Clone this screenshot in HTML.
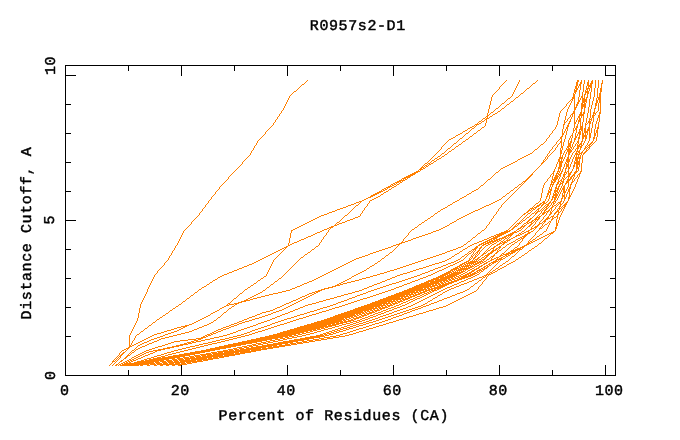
<!DOCTYPE html>
<html><head><meta charset="utf-8"><title>R0957s2-D1</title>
<style>html,body{margin:0;padding:0;background:#fff}svg{display:block}</style></head>
<body><svg width="680" height="440" viewBox="0 0 680 440" shape-rendering="crispEdges">
<rect width="680" height="440" fill="#fff"/>
<rect x="65.5" y="65.5" width="550" height="310" fill="none" stroke="#000" stroke-width="1"/>
<path d="M128.5 375v-5M128.5 66v5M181.5 375v-10M181.5 66v10M234.5 375v-5M234.5 66v5M287.5 375v-10M287.5 66v10M340.5 375v-5M340.5 66v5M393.5 375v-10M393.5 66v10M446.5 375v-5M446.5 66v5M499.5 375v-10M499.5 66v10M552.5 375v-5M552.5 66v5M605.5 375v-10M605.5 66v10M66 336.5h5M615 336.5h-5M66 307.5h5M615 307.5h-5M66 278.5h5M615 278.5h-5M66 249.5h5M615 249.5h-5M66 220.5h10M615 220.5h-10M66 191.5h5M615 191.5h-5M66 162.5h5M615 162.5h-5M66 133.5h5M615 133.5h-5M66 104.5h5M615 104.5h-5M66 75.5h10M615 75.5h-10" stroke="#000" stroke-width="1" fill="none"/>
<path fill="#ff7f00" d="M577 80h2v1h-2zM577 81h2v1h-2zM591 81h2v1h-2zM576 82h2v1h-2zM580 82h2v1h-2zM587 82h2v1h-2zM591 82h2v1h-2zM533 83h2v1h-2zM576 83h2v1h-2zM580 83h2v1h-2zM587 83h2v1h-2zM590 83h3v1h-3zM601 83h2v1h-2zM302 84h2v1h-2zM576 84h2v1h-2zM579 84h2v1h-2zM587 84h2v1h-2zM590 84h2v1h-2zM576 85h2v1h-2zM579 85h2v1h-2zM587 85h5v1h-5zM575 86h2v1h-2zM588 86h4v1h-4zM575 87h2v1h-2zM590 87h2v1h-2zM527 88h2v1h-2zM575 88h3v1h-3zM586 88h4v1h-4zM600 88h2v1h-2zM576 89h2v1h-2zM586 89h2v1h-2zM600 89h2v1h-2zM574 90h3v1h-3zM600 90h2v1h-2zM294 91h2v1h-2zM574 91h3v1h-3zM585 91h4v1h-4zM600 91h2v1h-2zM574 92h2v1h-2zM585 92h4v1h-4zM521 93h2v1h-2zM587 93h2v1h-2zM599 93h2v1h-2zM573 94h2v1h-2zM584 94h2v1h-2zM599 94h2v1h-2zM573 95h2v1h-2zM599 95h2v1h-2zM573 96h2v1h-2zM581 96h2v1h-2zM599 96h2v1h-2zM516 97h2v1h-2zM572 97h3v1h-3zM581 97h2v1h-2zM586 97h2v1h-2zM597 97h4v1h-4zM508 98h2v1h-2zM572 98h3v1h-3zM582 98h3v1h-3zM598 98h3v1h-3zM571 99h2v1h-2zM582 99h5v1h-5zM598 99h3v1h-3zM578 100h2v1h-2zM582 100h5v1h-5zM596 100h2v1h-2zM599 100h2v1h-2zM511 101h2v1h-2zM578 101h2v1h-2zM582 101h5v1h-5zM596 101h2v1h-2zM599 101h2v1h-2zM577 102h2v1h-2zM582 102h3v1h-3zM596 102h2v1h-2zM599 102h2v1h-2zM502 103h2v1h-2zM577 103h2v1h-2zM581 103h2v1h-2zM584 103h2v1h-2zM595 103h2v1h-2zM507 104h2v1h-2zM576 104h2v1h-2zM581 104h5v1h-5zM595 104h2v1h-2zM576 105h2v1h-2zM581 105h5v1h-5zM595 105h2v1h-2zM581 106h5v1h-5zM574 107h3v1h-3zM581 107h2v1h-2zM584 107h2v1h-2zM496 108h2v1h-2zM502 108h2v1h-2zM574 108h2v1h-2zM581 108h2v1h-2zM594 108h2v1h-2zM574 109h2v1h-2zM498 111h2v1h-2zM573 111h2v1h-2zM491 112h2v1h-2zM573 112h2v1h-2zM580 112h2v1h-2zM583 112h2v1h-2zM593 112h2v1h-2zM599 112h2v1h-2zM495 113h2v1h-2zM572 113h3v1h-3zM580 113h2v1h-2zM583 113h2v1h-2zM593 113h3v1h-3zM599 113h2v1h-2zM493 114h2v1h-2zM571 114h2v1h-2zM579 114h5v1h-5zM487 115h2v1h-2zM579 115h5v1h-5zM592 115h3v1h-3zM598 115h2v1h-2zM486 116h2v1h-2zM490 116h2v1h-2zM578 116h2v1h-2zM592 116h2v1h-2zM598 116h2v1h-2zM578 117h2v1h-2zM592 117h2v1h-2zM598 117h2v1h-2zM483 118h2v1h-2zM486 118h3v1h-3zM579 118h2v1h-2zM485 119h2v1h-2zM579 119h2v1h-2zM589 119h3v1h-3zM578 120h3v1h-3zM479 121h2v1h-2zM482 121h2v1h-2zM569 121h2v1h-2zM578 121h3v1h-3zM588 121h3v1h-3zM564 122h2v1h-2zM574 122h2v1h-2zM588 122h3v1h-3zM479 123h2v1h-2zM568 123h2v1h-2zM574 123h2v1h-2zM589 123h2v1h-2zM475 124h4v1h-4zM563 124h2v1h-2zM585 124h2v1h-2zM567 125h2v1h-2zM472 126h2v1h-2zM567 126h2v1h-2zM576 126h2v1h-2zM580 126h3v1h-3zM470 127h2v1h-2zM482 127h2v1h-2zM566 127h2v1h-2zM576 127h2v1h-2zM580 127h3v1h-3zM588 127h2v1h-2zM597 127h2v1h-2zM468 128h2v1h-2zM472 128h2v1h-2zM566 128h2v1h-2zM575 128h2v1h-2zM580 128h3v1h-3zM584 128h2v1h-2zM588 128h2v1h-2zM597 128h2v1h-2zM575 129h2v1h-2zM579 129h4v1h-4zM584 129h2v1h-2zM587 129h3v1h-3zM465 130h2v1h-2zM478 130h2v1h-2zM573 130h2v1h-2zM581 130h2v1h-2zM584 130h2v1h-2zM587 130h3v1h-3zM596 130h2v1h-2zM463 131h2v1h-2zM579 131h2v1h-2zM584 131h4v1h-4zM596 131h2v1h-2zM578 132h3v1h-3zM584 132h4v1h-4zM596 132h2v1h-2zM460 133h2v1h-2zM466 133h2v1h-2zM474 133h2v1h-2zM562 133h2v1h-2zM578 133h3v1h-3zM582 133h2v1h-2zM589 133h2v1h-2zM594 133h2v1h-2zM458 134h2v1h-2zM562 134h2v1h-2zM579 134h2v1h-2zM582 134h2v1h-2zM589 134h2v1h-2zM594 134h2v1h-2zM456 135h2v1h-2zM571 135h2v1h-2zM582 135h5v1h-5zM589 135h2v1h-2zM594 135h2v1h-2zM470 136h2v1h-2zM561 136h2v1h-2zM575 136h2v1h-2zM582 136h5v1h-5zM589 136h2v1h-2zM453 137h2v1h-2zM560 137h2v1h-2zM575 137h2v1h-2zM578 137h2v1h-2zM582 137h2v1h-2zM585 137h2v1h-2zM589 137h2v1h-2zM593 137h2v1h-2zM451 138h2v1h-2zM460 138h2v1h-2zM560 138h2v1h-2zM574 138h2v1h-2zM578 138h2v1h-2zM582 138h2v1h-2zM585 138h2v1h-2zM593 138h2v1h-2zM449 139h2v1h-2zM466 139h2v1h-2zM574 139h2v1h-2zM463 141h2v1h-2zM560 141h2v1h-2zM570 141h2v1h-2zM577 141h2v1h-2zM581 141h2v1h-2zM560 142h2v1h-2zM570 142h2v1h-2zM577 142h2v1h-2zM591 142h2v1h-2zM454 143h2v1h-2zM568 143h3v1h-3zM580 143h2v1h-2zM590 143h2v1h-2zM459 144h2v1h-2zM541 144h2v1h-2zM568 144h3v1h-3zM579 144h3v1h-3zM589 144h2v1h-2zM568 145h3v1h-3zM577 145h3v1h-3zM581 145h2v1h-2zM588 145h2v1h-2zM456 146h2v1h-2zM561 146h2v1h-2zM567 146h4v1h-4zM577 146h5v1h-5zM589 146h2v1h-2zM561 147h2v1h-2zM567 147h2v1h-2zM570 147h2v1h-2zM577 147h2v1h-2zM580 147h2v1h-2zM585 147h2v1h-2zM588 147h2v1h-2zM448 148h2v1h-2zM568 148h2v1h-2zM576 148h3v1h-3zM584 148h2v1h-2zM452 149h2v1h-2zM535 149h2v1h-2zM566 149h5v1h-5zM560 150h2v1h-2zM567 150h5v1h-5zM586 150h2v1h-2zM449 151h2v1h-2zM560 151h2v1h-2zM567 151h5v1h-5zM576 151h4v1h-4zM585 151h2v1h-2zM560 152h2v1h-2zM568 152h3v1h-3zM578 152h2v1h-2zM581 152h2v1h-2zM584 152h2v1h-2zM442 153h2v1h-2zM530 153h2v1h-2zM560 153h2v1h-2zM568 153h2v1h-2zM575 153h3v1h-3zM579 153h3v1h-3zM583 153h2v1h-2zM445 154h2v1h-2zM528 154h2v1h-2zM568 154h2v1h-2zM575 154h5v1h-5zM526 155h2v1h-2zM438 156h2v1h-2zM442 156h2v1h-2zM524 156h2v1h-2zM522 157h2v1h-2zM559 157h4v1h-4zM567 157h2v1h-2zM575 157h6v1h-6zM435 158h2v1h-2zM439 158h2v1h-2zM520 158h2v1h-2zM559 158h4v1h-4zM567 158h2v1h-2zM575 158h6v1h-6zM437 159h2v1h-2zM518 159h2v1h-2zM558 159h2v1h-2zM566 159h4v1h-4zM575 159h3v1h-3zM432 160h2v1h-2zM558 160h2v1h-2zM566 160h4v1h-4zM575 160h3v1h-3zM434 161h2v1h-2zM515 161h2v1h-2zM543 161h2v1h-2zM558 161h5v1h-5zM566 161h4v1h-4zM576 161h4v1h-4zM513 162h2v1h-2zM542 162h2v1h-2zM559 162h4v1h-4zM567 162h2v1h-2zM574 162h6v1h-6zM425 163h2v1h-2zM428 163h2v1h-2zM431 163h2v1h-2zM511 163h2v1h-2zM541 163h2v1h-2zM559 163h3v1h-3zM565 163h2v1h-2zM574 163h6v1h-6zM429 164h2v1h-2zM509 164h2v1h-2zM559 164h3v1h-3zM566 164h3v1h-3zM576 164h4v1h-4zM425 165h2v1h-2zM507 165h2v1h-2zM559 165h3v1h-3zM566 165h3v1h-3zM573 165h2v1h-2zM576 165h2v1h-2zM426 166h2v1h-2zM505 166h2v1h-2zM559 166h3v1h-3zM566 166h3v1h-3zM573 166h2v1h-2zM576 166h2v1h-2zM421 167h3v1h-3zM503 167h2v1h-2zM558 167h3v1h-3zM568 167h2v1h-2zM576 167h3v1h-3zM420 168h2v1h-2zM423 168h2v1h-2zM501 168h2v1h-2zM558 168h3v1h-3zM565 168h2v1h-2zM568 168h2v1h-2zM576 168h3v1h-3zM419 169h4v1h-4zM416 171h4v1h-4zM553 171h2v1h-2zM557 171h3v1h-3zM561 171h2v1h-2zM567 171h2v1h-2zM575 171h3v1h-3zM580 171h2v1h-2zM414 172h4v1h-4zM496 172h2v1h-2zM564 172h3v1h-3zM570 172h2v1h-2zM574 172h3v1h-3zM412 173h4v1h-4zM552 173h2v1h-2zM556 173h3v1h-3zM560 173h2v1h-2zM568 173h3v1h-3zM574 173h2v1h-2zM579 173h2v1h-2zM410 174h5v1h-5zM531 174h2v1h-2zM558 174h3v1h-3zM563 174h3v1h-3zM568 174h3v1h-3zM573 174h2v1h-2zM578 174h2v1h-2zM408 175h5v1h-5zM530 175h2v1h-2zM555 175h3v1h-3zM559 175h2v1h-2zM563 175h2v1h-2zM568 175h2v1h-2zM572 175h3v1h-3zM406 176h5v1h-5zM529 176h2v1h-2zM555 176h4v1h-4zM563 176h2v1h-2zM567 176h3v1h-3zM571 176h2v1h-2zM404 177h6v1h-6zM528 177h2v1h-2zM554 177h4v1h-4zM570 177h2v1h-2zM402 178h4v1h-4zM527 178h2v1h-2zM554 178h4v1h-4zM562 178h2v1h-2zM570 178h2v1h-2zM405 179h2v1h-2zM488 179h2v1h-2zM526 179h2v1h-2zM552 179h5v1h-5zM563 179h2v1h-2zM567 179h4v1h-4zM399 180h6v1h-6zM525 180h2v1h-2zM553 180h3v1h-3zM560 180h2v1h-2zM567 180h3v1h-3zM397 181h4v1h-4zM523 181h3v1h-3zM551 181h2v1h-2zM554 181h2v1h-2zM558 181h2v1h-2zM561 181h3v1h-3zM566 181h3v1h-3zM572 181h2v1h-2zM395 182h4v1h-4zM400 182h2v1h-2zM551 182h4v1h-4zM557 182h2v1h-2zM562 182h2v1h-2zM566 182h3v1h-3zM571 182h2v1h-2zM393 183h2v1h-2zM557 183h2v1h-2zM560 183h3v1h-3zM565 183h2v1h-2zM391 184h2v1h-2zM394 184h2v1h-2zM397 184h2v1h-2zM519 184h2v1h-2zM550 184h4v1h-4zM556 184h2v1h-2zM559 184h2v1h-2zM570 184h2v1h-2zM392 185h2v1h-2zM481 185h2v1h-2zM388 186h4v1h-4zM394 186h2v1h-2zM558 186h2v1h-2zM563 186h2v1h-2zM386 187h4v1h-4zM392 187h2v1h-2zM515 187h2v1h-2zM555 187h2v1h-2zM563 187h2v1h-2zM569 187h2v1h-2zM384 188h2v1h-2zM555 188h4v1h-4zM562 188h3v1h-3zM569 188h2v1h-2zM382 189h2v1h-2zM385 189h2v1h-2zM389 189h2v1h-2zM476 189h2v1h-2zM549 189h3v1h-3zM557 189h2v1h-2zM562 189h3v1h-3zM568 189h2v1h-2zM383 190h2v1h-2zM474 190h2v1h-2zM511 190h2v1h-2zM550 190h2v1h-2zM554 190h4v1h-4zM563 190h2v1h-2zM568 190h2v1h-2zM379 191h4v1h-4zM386 191h2v1h-2zM472 191h2v1h-2zM548 191h3v1h-3zM554 191h4v1h-4zM563 191h3v1h-3zM568 191h2v1h-2zM377 192h4v1h-4zM384 192h2v1h-2zM548 192h3v1h-3zM554 192h2v1h-2zM557 192h2v1h-2zM563 192h3v1h-3zM375 193h4v1h-4zM469 193h2v1h-2zM507 193h2v1h-2zM547 193h2v1h-2zM555 193h2v1h-2zM373 194h4v1h-4zM381 194h2v1h-2zM467 194h2v1h-2zM547 194h2v1h-2zM553 194h5v1h-5zM371 195h4v1h-4zM553 195h5v1h-5zM562 195h3v1h-3zM569 195h2v1h-2zM370 196h3v1h-3zM378 196h2v1h-2zM464 196h2v1h-2zM503 196h2v1h-2zM546 196h2v1h-2zM552 196h2v1h-2zM555 196h2v1h-2zM562 196h3v1h-3zM569 196h2v1h-2zM368 197h3v1h-3zM376 197h2v1h-2zM462 197h2v1h-2zM552 197h5v1h-5zM564 197h2v1h-2zM568 197h2v1h-2zM366 198h2v1h-2zM374 198h2v1h-2zM460 198h2v1h-2zM554 198h2v1h-2zM561 198h2v1h-2zM564 198h2v1h-2zM568 198h2v1h-2zM364 199h2v1h-2zM372 199h2v1h-2zM499 199h2v1h-2zM551 199h2v1h-2zM554 199h2v1h-2zM362 200h2v1h-2zM370 200h2v1h-2zM457 200h2v1h-2zM497 200h2v1h-2zM359 201h3v1h-3zM455 201h2v1h-2zM495 201h2v1h-2zM543 201h2v1h-2zM553 201h3v1h-3zM560 201h2v1h-2zM356 202h3v1h-3zM453 202h2v1h-2zM493 202h2v1h-2zM542 202h3v1h-3zM549 202h2v1h-2zM552 202h2v1h-2zM558 202h3v1h-3zM566 202h2v1h-2zM354 203h2v1h-2zM491 203h2v1h-2zM536 203h2v1h-2zM540 203h2v1h-2zM543 203h3v1h-3zM548 203h2v1h-2zM553 203h2v1h-2zM559 203h2v1h-2zM565 203h2v1h-2zM351 204h3v1h-3zM450 204h2v1h-2zM489 204h2v1h-2zM539 204h2v1h-2zM542 204h2v1h-2zM546 204h3v1h-3zM560 204h2v1h-2zM564 204h3v1h-3zM348 205h3v1h-3zM356 205h2v1h-2zM448 205h2v1h-2zM486 205h3v1h-3zM537 205h3v1h-3zM541 205h2v1h-2zM547 205h2v1h-2zM554 205h2v1h-2zM563 205h3v1h-3zM346 206h2v1h-2zM484 206h2v1h-2zM536 206h3v1h-3zM546 206h2v1h-2zM552 206h2v1h-2zM559 206h2v1h-2zM564 206h2v1h-2zM343 207h3v1h-3zM445 207h2v1h-2zM482 207h2v1h-2zM534 207h3v1h-3zM545 207h2v1h-2zM551 207h2v1h-2zM563 207h2v1h-2zM340 208h3v1h-3zM443 208h2v1h-2zM480 208h2v1h-2zM530 208h4v1h-4zM538 208h2v1h-2zM546 208h2v1h-2zM550 208h2v1h-2zM558 208h3v1h-3zM337 209h3v1h-3zM441 209h2v1h-2zM478 209h2v1h-2zM533 209h2v1h-2zM537 209h2v1h-2zM545 209h2v1h-2zM335 210h2v1h-2zM475 210h3v1h-3zM528 210h3v1h-3zM544 210h2v1h-2zM548 210h2v1h-2zM557 210h2v1h-2zM332 211h3v1h-3zM438 211h2v1h-2zM473 211h2v1h-2zM527 211h2v1h-2zM537 211h3v1h-3zM546 211h3v1h-3zM556 211h3v1h-3zM329 212h3v1h-3zM471 212h2v1h-2zM526 212h2v1h-2zM536 212h2v1h-2zM543 212h3v1h-3zM550 212h2v1h-2zM555 212h2v1h-2zM558 212h2v1h-2zM327 213h2v1h-2zM435 213h2v1h-2zM469 213h2v1h-2zM524 213h2v1h-2zM528 213h2v1h-2zM532 213h2v1h-2zM535 213h2v1h-2zM542 213h3v1h-3zM550 213h2v1h-2zM554 213h2v1h-2zM324 214h3v1h-3zM467 214h2v1h-2zM523 214h2v1h-2zM542 214h2v1h-2zM549 214h2v1h-2zM557 214h2v1h-2zM321 215h3v1h-3zM345 215h2v1h-2zM465 215h2v1h-2zM319 216h2v1h-2zM358 216h2v1h-2zM431 216h2v1h-2zM463 216h2v1h-2zM539 216h2v1h-2zM551 216h3v1h-3zM556 216h2v1h-2zM317 217h2v1h-2zM355 217h3v1h-3zM461 217h2v1h-2zM527 217h2v1h-2zM536 217h4v1h-4zM547 217h2v1h-2zM554 217h2v1h-2zM315 218h2v1h-2zM353 218h2v1h-2zM428 218h2v1h-2zM459 218h2v1h-2zM530 218h2v1h-2zM535 218h2v1h-2zM538 218h2v1h-2zM546 218h4v1h-4zM552 218h2v1h-2zM313 219h2v1h-2zM350 219h3v1h-3zM457 219h2v1h-2zM529 219h2v1h-2zM534 219h5v1h-5zM545 219h3v1h-3zM551 219h2v1h-2zM311 220h2v1h-2zM347 220h3v1h-3zM425 220h2v1h-2zM523 220h2v1h-2zM528 220h2v1h-2zM532 220h2v1h-2zM544 220h2v1h-2zM309 221h2v1h-2zM345 221h2v1h-2zM454 221h2v1h-2zM527 221h2v1h-2zM531 221h2v1h-2zM543 221h3v1h-3zM549 221h2v1h-2zM307 222h2v1h-2zM337 222h2v1h-2zM342 222h3v1h-3zM422 222h2v1h-2zM452 222h2v1h-2zM526 222h2v1h-2zM529 222h3v1h-3zM305 223h2v1h-2zM339 223h3v1h-3zM450 223h2v1h-2zM517 223h4v1h-4zM524 223h2v1h-2zM527 223h2v1h-2zM531 223h2v1h-2zM539 223h3v1h-3zM556 223h2v1h-2zM303 224h2v1h-2zM337 224h2v1h-2zM419 224h2v1h-2zM530 224h2v1h-2zM538 224h2v1h-2zM545 224h2v1h-2zM556 224h2v1h-2zM301 225h2v1h-2zM334 225h3v1h-3zM447 225h2v1h-2zM524 225h2v1h-2zM529 225h2v1h-2zM537 225h2v1h-2zM556 225h2v1h-2zM299 226h2v1h-2zM331 226h3v1h-3zM445 226h2v1h-2zM514 226h3v1h-3zM521 226h4v1h-4zM528 226h2v1h-2zM535 226h3v1h-3zM297 227h2v1h-2zM329 227h4v1h-4zM415 227h2v1h-2zM443 227h2v1h-2zM513 227h2v1h-2zM520 227h2v1h-2zM534 227h3v1h-3zM555 227h2v1h-2zM295 228h2v1h-2zM327 228h2v1h-2zM441 228h2v1h-2zM512 228h2v1h-2zM518 228h3v1h-3zM531 228h3v1h-3zM539 228h3v1h-3zM555 228h2v1h-2zM293 229h2v1h-2zM324 229h3v1h-3zM412 229h2v1h-2zM439 229h2v1h-2zM511 229h2v1h-2zM517 229h2v1h-2zM530 229h2v1h-2zM291 230h2v1h-2zM322 230h2v1h-2zM436 230h3v1h-3zM482 230h2v1h-2zM506 230h2v1h-2zM509 230h2v1h-2zM519 230h2v1h-2zM528 230h2v1h-2zM320 231h2v1h-2zM433 231h3v1h-3zM504 231h6v1h-6zM514 231h2v1h-2zM517 231h2v1h-2zM522 231h2v1h-2zM526 231h3v1h-3zM531 231h2v1h-2zM544 231h2v1h-2zM553 231h2v1h-2zM317 232h3v1h-3zM431 232h2v1h-2zM501 232h7v1h-7zM512 232h5v1h-5zM524 232h2v1h-2zM528 232h3v1h-3zM551 232h3v1h-3zM315 233h2v1h-2zM428 233h3v1h-3zM478 233h2v1h-2zM499 233h7v1h-7zM510 233h4v1h-4zM519 233h2v1h-2zM522 233h2v1h-2zM527 233h3v1h-3zM549 233h4v1h-4zM313 234h2v1h-2zM425 234h3v1h-3zM496 234h8v1h-8zM508 234h5v1h-5zM520 234h2v1h-2zM525 234h3v1h-3zM540 234h2v1h-2zM547 234h2v1h-2zM311 235h2v1h-2zM422 235h3v1h-3zM494 235h2v1h-2zM497 235h5v1h-5zM506 235h6v1h-6zM516 235h4v1h-4zM524 235h3v1h-3zM545 235h2v1h-2zM308 236h3v1h-3zM419 236h3v1h-3zM491 236h3v1h-3zM495 236h5v1h-5zM504 236h3v1h-3zM515 236h2v1h-2zM522 236h4v1h-4zM537 236h2v1h-2zM543 236h2v1h-2zM306 237h2v1h-2zM416 237h3v1h-3zM473 237h2v1h-2zM489 237h2v1h-2zM493 237h5v1h-5zM502 237h4v1h-4zM513 237h2v1h-2zM520 237h2v1h-2zM523 237h2v1h-2zM541 237h2v1h-2zM304 238h2v1h-2zM413 238h3v1h-3zM487 238h2v1h-2zM491 238h6v1h-6zM499 238h5v1h-5zM505 238h2v1h-2zM511 238h2v1h-2zM518 238h2v1h-2zM521 238h3v1h-3zM539 238h2v1h-2zM545 238h2v1h-2zM301 239h3v1h-3zM411 239h2v1h-2zM484 239h3v1h-3zM489 239h3v1h-3zM493 239h2v1h-2zM496 239h4v1h-4zM509 239h2v1h-2zM516 239h2v1h-2zM533 239h2v1h-2zM537 239h2v1h-2zM299 240h2v1h-2zM408 240h3v1h-3zM482 240h2v1h-2zM487 240h3v1h-3zM491 240h2v1h-2zM494 240h4v1h-4zM499 240h2v1h-2zM506 240h4v1h-4zM518 240h2v1h-2zM535 240h2v1h-2zM297 241h2v1h-2zM405 241h3v1h-3zM468 241h2v1h-2zM479 241h3v1h-3zM485 241h3v1h-3zM489 241h7v1h-7zM497 241h2v1h-2zM501 241h2v1h-2zM504 241h2v1h-2zM513 241h2v1h-2zM530 241h2v1h-2zM533 241h2v1h-2zM294 242h3v1h-3zM401 242h4v1h-4zM477 242h2v1h-2zM483 242h3v1h-3zM487 242h4v1h-4zM492 242h2v1h-2zM502 242h5v1h-5zM511 242h2v1h-2zM515 242h2v1h-2zM528 242h2v1h-2zM531 242h2v1h-2zM292 243h2v1h-2zM399 243h3v1h-3zM474 243h3v1h-3zM481 243h3v1h-3zM485 243h4v1h-4zM490 243h2v1h-2zM494 243h2v1h-2zM499 243h3v1h-3zM503 243h2v1h-2zM509 243h2v1h-2zM527 243h4v1h-4zM539 243h2v1h-2zM290 244h2v1h-2zM396 244h4v1h-4zM464 244h2v1h-2zM472 244h2v1h-2zM479 244h3v1h-3zM483 244h3v1h-3zM488 244h2v1h-2zM492 244h2v1h-2zM497 244h3v1h-3zM502 244h2v1h-2zM507 244h2v1h-2zM512 244h2v1h-2zM526 244h3v1h-3zM288 245h2v1h-2zM393 245h3v1h-3zM470 245h2v1h-2zM478 245h2v1h-2zM482 245h2v1h-2zM486 245h2v1h-2zM496 245h2v1h-2zM524 245h3v1h-3zM286 246h2v1h-2zM316 246h2v1h-2zM391 246h2v1h-2zM461 246h2v1h-2zM468 246h2v1h-2zM476 246h2v1h-2zM494 246h2v1h-2zM499 246h2v1h-2zM522 246h3v1h-3zM535 246h2v1h-2zM284 247h3v1h-3zM388 247h3v1h-3zM458 247h3v1h-3zM475 247h3v1h-3zM480 247h2v1h-2zM493 247h2v1h-2zM498 247h3v1h-3zM503 247h2v1h-2zM515 247h2v1h-2zM520 247h4v1h-4zM282 248h2v1h-2zM385 248h3v1h-3zM456 248h2v1h-2zM465 248h2v1h-2zM474 248h3v1h-3zM479 248h2v1h-2zM491 248h3v1h-3zM496 248h2v1h-2zM517 248h4v1h-4zM532 248h2v1h-2zM280 249h2v1h-2zM312 249h2v1h-2zM382 249h3v1h-3zM453 249h3v1h-3zM463 249h2v1h-2zM472 249h4v1h-4zM495 249h2v1h-2zM515 249h7v1h-7zM278 250h2v1h-2zM379 250h3v1h-3zM450 250h3v1h-3zM478 250h2v1h-2zM488 250h2v1h-2zM492 250h4v1h-4zM499 250h2v1h-2zM511 250h7v1h-7zM529 250h2v1h-2zM276 251h2v1h-2zM376 251h3v1h-3zM447 251h3v1h-3zM460 251h2v1h-2zM469 251h2v1h-2zM477 251h2v1h-2zM491 251h3v1h-3zM497 251h2v1h-2zM510 251h6v1h-6zM274 252h2v1h-2zM308 252h2v1h-2zM373 252h3v1h-3zM390 252h2v1h-2zM445 252h2v1h-2zM476 252h2v1h-2zM490 252h3v1h-3zM496 252h2v1h-2zM508 252h2v1h-2zM511 252h4v1h-4zM272 253h2v1h-2zM370 253h3v1h-3zM442 253h3v1h-3zM457 253h2v1h-2zM469 253h2v1h-2zM483 253h3v1h-3zM488 253h4v1h-4zM495 253h2v1h-2zM502 253h2v1h-2zM506 253h7v1h-7zM525 253h2v1h-2zM270 254h2v1h-2zM305 254h2v1h-2zM368 254h2v1h-2zM439 254h3v1h-3zM455 254h2v1h-2zM465 254h2v1h-2zM482 254h2v1h-2zM487 254h3v1h-3zM503 254h6v1h-6zM268 255h2v1h-2zM365 255h3v1h-3zM386 255h2v1h-2zM436 255h3v1h-3zM481 255h2v1h-2zM485 255h4v1h-4zM493 255h2v1h-2zM500 255h3v1h-3zM505 255h2v1h-2zM508 255h2v1h-2zM522 255h2v1h-2zM266 256h2v1h-2zM362 256h3v1h-3zM433 256h3v1h-3zM452 256h2v1h-2zM462 256h2v1h-2zM471 256h2v1h-2zM475 256h2v1h-2zM486 256h2v1h-2zM491 256h3v1h-3zM499 256h2v1h-2zM503 256h2v1h-2zM506 256h2v1h-2zM512 256h2v1h-2zM264 257h2v1h-2zM301 257h2v1h-2zM359 257h3v1h-3zM430 257h3v1h-3zM474 257h2v1h-2zM478 257h2v1h-2zM482 257h2v1h-2zM485 257h2v1h-2zM496 257h3v1h-3zM501 257h2v1h-2zM519 257h2v1h-2zM262 258h2v1h-2zM356 258h3v1h-3zM382 258h2v1h-2zM427 258h3v1h-3zM449 258h2v1h-2zM473 258h2v1h-2zM477 258h2v1h-2zM484 258h2v1h-2zM494 258h2v1h-2zM499 258h3v1h-3zM503 258h2v1h-2zM260 259h2v1h-2zM354 259h2v1h-2zM424 259h3v1h-3zM447 259h2v1h-2zM458 259h2v1h-2zM469 259h2v1h-2zM475 259h3v1h-3zM479 259h2v1h-2zM482 259h3v1h-3zM487 259h2v1h-2zM491 259h3v1h-3zM496 259h7v1h-7zM516 259h2v1h-2zM258 260h2v1h-2zM352 260h2v1h-2zM421 260h3v1h-3zM445 260h2v1h-2zM456 260h2v1h-2zM461 260h2v1h-2zM468 260h2v1h-2zM490 260h2v1h-2zM495 260h2v1h-2zM256 261h2v1h-2zM350 261h2v1h-2zM378 261h2v1h-2zM418 261h3v1h-3zM442 261h3v1h-3zM454 261h2v1h-2zM459 261h2v1h-2zM466 261h3v1h-3zM470 261h8v1h-8zM479 261h4v1h-4zM484 261h2v1h-2zM488 261h2v1h-2zM493 261h5v1h-5zM506 261h2v1h-2zM513 261h2v1h-2zM254 262h2v1h-2zM348 262h2v1h-2zM415 262h3v1h-3zM439 262h3v1h-3zM451 262h3v1h-3zM457 262h2v1h-2zM464 262h3v1h-3zM468 262h8v1h-8zM477 262h4v1h-4zM482 262h2v1h-2zM486 262h2v1h-2zM491 262h5v1h-5zM511 262h2v1h-2zM252 263h2v1h-2zM346 263h2v1h-2zM375 263h2v1h-2zM412 263h3v1h-3zM435 263h4v1h-4zM448 263h3v1h-3zM455 263h2v1h-2zM462 263h3v1h-3zM466 263h8v1h-8zM475 263h4v1h-4zM480 263h2v1h-2zM484 263h3v1h-3zM489 263h2v1h-2zM492 263h2v1h-2zM503 263h2v1h-2zM509 263h2v1h-2zM249 264h3v1h-3zM344 264h2v1h-2zM409 264h3v1h-3zM432 264h3v1h-3zM446 264h2v1h-2zM453 264h2v1h-2zM460 264h3v1h-3zM464 264h2v1h-2zM473 264h4v1h-4zM483 264h2v1h-2zM488 264h2v1h-2zM507 264h2v1h-2zM247 265h2v1h-2zM342 265h2v1h-2zM372 265h2v1h-2zM406 265h3v1h-3zM429 265h3v1h-3zM443 265h3v1h-3zM450 265h3v1h-3zM459 265h3v1h-3zM465 265h6v1h-6zM477 265h2v1h-2zM481 265h2v1h-2zM486 265h2v1h-2zM489 265h2v1h-2zM500 265h2v1h-2zM244 266h3v1h-3zM340 266h2v1h-2zM370 266h2v1h-2zM403 266h3v1h-3zM426 266h3v1h-3zM441 266h2v1h-2zM448 266h2v1h-2zM457 266h3v1h-3zM461 266h8v1h-8zM470 266h4v1h-4zM475 266h2v1h-2zM479 266h3v1h-3zM484 266h2v1h-2zM487 266h2v1h-2zM504 266h2v1h-2zM242 267h2v1h-2zM338 267h2v1h-2zM400 267h3v1h-3zM423 267h3v1h-3zM438 267h3v1h-3zM446 267h2v1h-2zM455 267h3v1h-3zM459 267h2v1h-2zM468 267h4v1h-4zM478 267h2v1h-2zM483 267h2v1h-2zM486 267h2v1h-2zM502 267h2v1h-2zM239 268h3v1h-3zM336 268h2v1h-2zM367 268h2v1h-2zM397 268h3v1h-3zM419 268h4v1h-4zM435 268h3v1h-3zM444 268h2v1h-2zM453 268h6v1h-6zM460 268h10v1h-10zM472 268h2v1h-2zM476 268h3v1h-3zM481 268h2v1h-2zM484 268h3v1h-3zM496 268h2v1h-2zM500 268h2v1h-2zM237 269h2v1h-2zM334 269h2v1h-2zM394 269h3v1h-3zM416 269h3v1h-3zM433 269h2v1h-2zM442 269h2v1h-2zM451 269h6v1h-6zM458 269h10v1h-10zM470 269h2v1h-2zM474 269h3v1h-3zM479 269h2v1h-2zM482 269h3v1h-3zM498 269h2v1h-2zM234 270h3v1h-3zM332 270h2v1h-2zM364 270h2v1h-2zM390 270h4v1h-4zM413 270h3v1h-3zM430 270h3v1h-3zM439 270h3v1h-3zM450 270h3v1h-3zM456 270h6v1h-6zM468 270h2v1h-2zM472 270h3v1h-3zM477 270h5v1h-5zM493 270h2v1h-2zM232 271h2v1h-2zM330 271h2v1h-2zM362 271h2v1h-2zM387 271h3v1h-3zM410 271h3v1h-3zM428 271h2v1h-2zM437 271h2v1h-2zM448 271h3v1h-3zM452 271h2v1h-2zM461 271h4v1h-4zM471 271h3v1h-3zM476 271h2v1h-2zM481 271h2v1h-2zM495 271h2v1h-2zM229 272h3v1h-3zM328 272h2v1h-2zM360 272h2v1h-2zM384 272h3v1h-3zM407 272h3v1h-3zM425 272h3v1h-3zM435 272h2v1h-2zM446 272h6v1h-6zM453 272h10v1h-10zM465 272h2v1h-2zM469 272h3v1h-3zM474 272h2v1h-2zM477 272h2v1h-2zM490 272h2v1h-2zM493 272h2v1h-2zM227 273h2v1h-2zM326 273h2v1h-2zM358 273h2v1h-2zM380 273h4v1h-4zM403 273h4v1h-4zM422 273h3v1h-3zM433 273h2v1h-2zM444 273h6v1h-6zM451 273h10v1h-10zM463 273h2v1h-2zM467 273h4v1h-4zM472 273h5v1h-5zM491 273h2v1h-2zM224 274h3v1h-3zM324 274h2v1h-2zM356 274h2v1h-2zM377 274h3v1h-3zM400 274h3v1h-3zM420 274h2v1h-2zM431 274h2v1h-2zM442 274h6v1h-6zM449 274h10v1h-10zM461 274h2v1h-2zM465 274h4v1h-4zM470 274h5v1h-5zM477 274h2v1h-2zM486 274h5v1h-5zM222 275h2v1h-2zM322 275h2v1h-2zM354 275h2v1h-2zM373 275h4v1h-4zM397 275h3v1h-3zM417 275h3v1h-3zM428 275h3v1h-3zM440 275h6v1h-6zM447 275h10v1h-10zM459 275h2v1h-2zM463 275h4v1h-4zM468 275h5v1h-5zM475 275h2v1h-2zM484 275h3v1h-3zM220 276h2v1h-2zM264 276h2v1h-2zM320 276h2v1h-2zM352 276h2v1h-2zM370 276h3v1h-3zM395 276h2v1h-2zM414 276h3v1h-3zM426 276h2v1h-2zM438 276h6v1h-6zM445 276h10v1h-10zM456 276h3v1h-3zM460 276h11v1h-11zM473 276h2v1h-2zM482 276h2v1h-2zM218 277h2v1h-2zM318 277h2v1h-2zM366 277h4v1h-4zM392 277h3v1h-3zM411 277h3v1h-3zM423 277h3v1h-3zM436 277h17v1h-17zM454 277h2v1h-2zM458 277h2v1h-2zM461 277h7v1h-7zM471 277h2v1h-2zM479 277h3v1h-3zM483 277h2v1h-2zM261 278h2v1h-2zM279 278h2v1h-2zM316 278h2v1h-2zM349 278h2v1h-2zM362 278h4v1h-4zM390 278h2v1h-2zM408 278h3v1h-3zM420 278h3v1h-3zM433 278h6v1h-6zM440 278h10v1h-10zM451 278h3v1h-3zM455 278h3v1h-3zM459 278h6v1h-6zM468 278h3v1h-3zM477 278h2v1h-2zM215 279h2v1h-2zM314 279h2v1h-2zM347 279h2v1h-2zM359 279h3v1h-3zM387 279h3v1h-3zM405 279h3v1h-3zM418 279h2v1h-2zM431 279h16v1h-16zM448 279h3v1h-3zM452 279h3v1h-3zM457 279h5v1h-5zM466 279h2v1h-2zM474 279h3v1h-3zM213 280h2v1h-2zM258 280h2v1h-2zM312 280h2v1h-2zM345 280h2v1h-2zM355 280h4v1h-4zM385 280h2v1h-2zM402 280h3v1h-3zM415 280h3v1h-3zM428 280h6v1h-6zM435 280h13v1h-13zM449 280h3v1h-3zM454 280h5v1h-5zM464 280h2v1h-2zM472 280h2v1h-2zM479 280h2v1h-2zM275 281h2v1h-2zM309 281h3v1h-3zM343 281h2v1h-2zM351 281h4v1h-4zM382 281h3v1h-3zM399 281h3v1h-3zM412 281h3v1h-3zM426 281h16v1h-16zM443 281h2v1h-2zM446 281h3v1h-3zM451 281h6v1h-6zM461 281h3v1h-3zM469 281h3v1h-3zM210 282h2v1h-2zM307 282h2v1h-2zM341 282h2v1h-2zM347 282h4v1h-4zM380 282h2v1h-2zM396 282h3v1h-3zM410 282h2v1h-2zM424 282h5v1h-5zM430 282h9v1h-9zM440 282h3v1h-3zM444 282h2v1h-2zM448 282h6v1h-6zM459 282h2v1h-2zM467 282h2v1h-2zM254 283h2v1h-2zM304 283h3v1h-3zM339 283h2v1h-2zM343 283h4v1h-4zM377 283h3v1h-3zM392 283h4v1h-4zM407 283h3v1h-3zM421 283h19v1h-19zM441 283h3v1h-3zM445 283h7v1h-7zM457 283h2v1h-2zM464 283h3v1h-3zM475 283h2v1h-2zM207 284h2v1h-2zM271 284h2v1h-2zM302 284h2v1h-2zM337 284h2v1h-2zM340 284h3v1h-3zM374 284h3v1h-3zM389 284h3v1h-3zM404 284h3v1h-3zM419 284h15v1h-15zM435 284h2v1h-2zM438 284h3v1h-3zM442 284h7v1h-7zM454 284h3v1h-3zM461 284h3v1h-3zM251 285h2v1h-2zM300 285h2v1h-2zM335 285h5v1h-5zM372 285h2v1h-2zM386 285h3v1h-3zM402 285h2v1h-2zM416 285h15v1h-15zM432 285h6v1h-6zM439 285h8v1h-8zM452 285h2v1h-2zM459 285h2v1h-2zM204 286h2v1h-2zM297 286h3v1h-3zM332 286h4v1h-4zM369 286h3v1h-3zM383 286h3v1h-3zM399 286h3v1h-3zM414 286h21v1h-21zM437 286h8v1h-8zM450 286h2v1h-2zM456 286h3v1h-3zM471 286h2v1h-2zM202 287h2v1h-2zM248 287h2v1h-2zM267 287h2v1h-2zM295 287h2v1h-2zM328 287h5v1h-5zM367 287h2v1h-2zM380 287h3v1h-3zM396 287h3v1h-3zM412 287h17v1h-17zM430 287h2v1h-2zM434 287h9v1h-9zM447 287h3v1h-3zM454 287h2v1h-2zM292 288h3v1h-3zM324 288h5v1h-5zM364 288h3v1h-3zM377 288h3v1h-3zM394 288h2v1h-2zM409 288h14v1h-14zM424 288h2v1h-2zM427 288h3v1h-3zM431 288h10v1h-10zM445 288h2v1h-2zM451 288h3v1h-3zM199 289h2v1h-2zM245 289h2v1h-2zM290 289h2v1h-2zM321 289h4v1h-4zM362 289h2v1h-2zM374 289h3v1h-3zM391 289h3v1h-3zM407 289h20v1h-20zM428 289h5v1h-5zM434 289h2v1h-2zM437 289h2v1h-2zM443 289h2v1h-2zM449 289h2v1h-2zM467 289h2v1h-2zM263 290h2v1h-2zM286 290h4v1h-4zM318 290h4v1h-4zM359 290h3v1h-3zM371 290h3v1h-3zM388 290h3v1h-3zM404 290h20v1h-20zM425 290h5v1h-5zM431 290h6v1h-6zM441 290h2v1h-2zM447 290h2v1h-2zM465 290h2v1h-2zM282 291h4v1h-4zM315 291h5v1h-5zM355 291h4v1h-4zM368 291h3v1h-3zM385 291h3v1h-3zM402 291h13v1h-13zM416 291h2v1h-2zM419 291h2v1h-2zM423 291h4v1h-4zM429 291h2v1h-2zM432 291h2v1h-2zM439 291h2v1h-2zM445 291h2v1h-2zM463 291h2v1h-2zM474 291h2v1h-2zM195 292h2v1h-2zM260 292h2v1h-2zM278 292h4v1h-4zM312 292h3v1h-3zM316 292h2v1h-2zM352 292h3v1h-3zM366 292h2v1h-2zM382 292h3v1h-3zM399 292h20v1h-20zM420 292h5v1h-5zM427 292h2v1h-2zM430 292h2v1h-2zM437 292h2v1h-2zM443 292h2v1h-2zM460 292h3v1h-3zM472 292h2v1h-2zM240 293h2v1h-2zM258 293h2v1h-2zM273 293h5v1h-5zM309 293h3v1h-3zM314 293h2v1h-2zM348 293h4v1h-4zM363 293h3v1h-3zM379 293h3v1h-3zM396 293h14v1h-14zM411 293h2v1h-2zM414 293h2v1h-2zM418 293h4v1h-4zM424 293h3v1h-3zM428 293h2v1h-2zM435 293h2v1h-2zM457 293h3v1h-3zM470 293h2v1h-2zM256 294h2v1h-2zM269 294h4v1h-4zM307 294h2v1h-2zM312 294h2v1h-2zM344 294h4v1h-4zM360 294h3v1h-3zM376 294h3v1h-3zM394 294h20v1h-20zM415 294h5v1h-5zM422 294h2v1h-2zM426 294h2v1h-2zM433 294h2v1h-2zM440 294h2v1h-2zM455 294h2v1h-2zM468 294h2v1h-2zM191 295h2v1h-2zM254 295h2v1h-2zM265 295h4v1h-4zM305 295h2v1h-2zM310 295h2v1h-2zM341 295h3v1h-3zM357 295h3v1h-3zM373 295h3v1h-3zM391 295h14v1h-14zM406 295h2v1h-2zM409 295h2v1h-2zM413 295h4v1h-4zM420 295h2v1h-2zM424 295h2v1h-2zM431 295h2v1h-2zM438 295h2v1h-2zM452 295h3v1h-3zM466 295h2v1h-2zM252 296h2v1h-2zM261 296h4v1h-4zM302 296h3v1h-3zM308 296h2v1h-2zM337 296h4v1h-4zM355 296h2v1h-2zM370 296h3v1h-3zM388 296h21v1h-21zM410 296h5v1h-5zM417 296h3v1h-3zM422 296h2v1h-2zM429 296h2v1h-2zM450 296h2v1h-2zM464 296h2v1h-2zM250 297h2v1h-2zM257 297h4v1h-4zM300 297h2v1h-2zM306 297h2v1h-2zM334 297h3v1h-3zM352 297h3v1h-3zM367 297h3v1h-3zM386 297h14v1h-14zM401 297h2v1h-2zM404 297h2v1h-2zM408 297h4v1h-4zM415 297h2v1h-2zM420 297h2v1h-2zM427 297h2v1h-2zM435 297h2v1h-2zM447 297h3v1h-3zM462 297h2v1h-2zM187 298h2v1h-2zM234 298h2v1h-2zM248 298h2v1h-2zM253 298h4v1h-4zM298 298h2v1h-2zM304 298h2v1h-2zM330 298h4v1h-4zM349 298h3v1h-3zM363 298h4v1h-4zM383 298h21v1h-21zM405 298h5v1h-5zM413 298h2v1h-2zM417 298h3v1h-3zM425 298h2v1h-2zM433 298h2v1h-2zM444 298h3v1h-3zM460 298h2v1h-2zM246 299h2v1h-2zM250 299h3v1h-3zM296 299h2v1h-2zM302 299h2v1h-2zM326 299h4v1h-4zM347 299h2v1h-2zM360 299h3v1h-3zM380 299h21v1h-21zM402 299h6v1h-6zM410 299h3v1h-3zM415 299h2v1h-2zM423 299h2v1h-2zM442 299h2v1h-2zM458 299h2v1h-2zM244 300h6v1h-6zM293 300h3v1h-3zM300 300h2v1h-2zM323 300h3v1h-3zM344 300h3v1h-3zM357 300h3v1h-3zM378 300h14v1h-14zM393 300h2v1h-2zM396 300h2v1h-2zM400 300h2v1h-2zM403 300h2v1h-2zM408 300h2v1h-2zM413 300h2v1h-2zM421 300h2v1h-2zM430 300h2v1h-2zM439 300h3v1h-3zM456 300h2v1h-2zM183 301h2v1h-2zM241 301h5v1h-5zM291 301h2v1h-2zM298 301h2v1h-2zM319 301h4v1h-4zM341 301h3v1h-3zM354 301h3v1h-3zM375 301h21v1h-21zM397 301h6v1h-6zM406 301h2v1h-2zM411 301h2v1h-2zM419 301h2v1h-2zM428 301h2v1h-2zM437 301h2v1h-2zM454 301h2v1h-2zM238 302h4v1h-4zM289 302h2v1h-2zM296 302h2v1h-2zM316 302h3v1h-3zM338 302h3v1h-3zM351 302h3v1h-3zM372 302h15v1h-15zM388 302h2v1h-2zM391 302h2v1h-2zM395 302h2v1h-2zM398 302h2v1h-2zM403 302h3v1h-3zM409 302h2v1h-2zM417 302h2v1h-2zM434 302h3v1h-3zM452 302h2v1h-2zM228 303h2v1h-2zM234 303h5v1h-5zM286 303h3v1h-3zM294 303h2v1h-2zM312 303h4v1h-4zM336 303h2v1h-2zM348 303h3v1h-3zM370 303h21v1h-21zM392 303h6v1h-6zM401 303h2v1h-2zM407 303h2v1h-2zM415 303h2v1h-2zM425 303h2v1h-2zM431 303h3v1h-3zM450 303h2v1h-2zM179 304h2v1h-2zM229 304h5v1h-5zM235 304h2v1h-2zM284 304h2v1h-2zM292 304h2v1h-2zM308 304h4v1h-4zM333 304h3v1h-3zM345 304h3v1h-3zM367 304h15v1h-15zM383 304h2v1h-2zM386 304h2v1h-2zM390 304h2v1h-2zM393 304h2v1h-2zM399 304h2v1h-2zM405 304h2v1h-2zM413 304h2v1h-2zM423 304h2v1h-2zM429 304h2v1h-2zM448 304h2v1h-2zM226 305h3v1h-3zM282 305h2v1h-2zM290 305h2v1h-2zM305 305h3v1h-3zM330 305h3v1h-3zM342 305h3v1h-3zM364 305h22v1h-22zM387 305h6v1h-6zM396 305h3v1h-3zM402 305h3v1h-3zM411 305h2v1h-2zM421 305h2v1h-2zM426 305h3v1h-3zM446 305h2v1h-2zM176 306h2v1h-2zM224 306h2v1h-2zM232 306h2v1h-2zM280 306h2v1h-2zM288 306h2v1h-2zM303 306h2v1h-2zM327 306h3v1h-3zM339 306h3v1h-3zM361 306h19v1h-19zM381 306h2v1h-2zM385 306h2v1h-2zM388 306h2v1h-2zM394 306h2v1h-2zM400 306h2v1h-2zM408 306h3v1h-3zM418 306h3v1h-3zM423 306h3v1h-3zM443 306h3v1h-3zM222 307h2v1h-2zM277 307h3v1h-3zM286 307h2v1h-2zM300 307h3v1h-3zM323 307h4v1h-4zM335 307h4v1h-4zM358 307h16v1h-16zM375 307h2v1h-2zM378 307h3v1h-3zM382 307h6v1h-6zM391 307h3v1h-3zM397 307h3v1h-3zM406 307h2v1h-2zM415 307h3v1h-3zM421 307h2v1h-2zM439 307h4v1h-4zM173 308h2v1h-2zM220 308h2v1h-2zM229 308h2v1h-2zM275 308h2v1h-2zM284 308h2v1h-2zM298 308h2v1h-2zM320 308h3v1h-3zM332 308h3v1h-3zM355 308h23v1h-23zM379 308h6v1h-6zM388 308h3v1h-3zM394 308h3v1h-3zM403 308h3v1h-3zM412 308h3v1h-3zM418 308h3v1h-3zM436 308h3v1h-3zM273 309h2v1h-2zM282 309h2v1h-2zM295 309h3v1h-3zM317 309h3v1h-3zM329 309h3v1h-3zM353 309h19v1h-19zM373 309h2v1h-2zM377 309h2v1h-2zM380 309h2v1h-2zM386 309h2v1h-2zM392 309h2v1h-2zM400 309h3v1h-3zM409 309h3v1h-3zM415 309h3v1h-3zM433 309h3v1h-3zM170 310h2v1h-2zM217 310h2v1h-2zM270 310h3v1h-3zM279 310h3v1h-3zM293 310h2v1h-2zM314 310h3v1h-3zM326 310h3v1h-3zM350 310h19v1h-19zM370 310h3v1h-3zM374 310h6v1h-6zM383 310h3v1h-3zM389 310h3v1h-3zM397 310h3v1h-3zM406 310h3v1h-3zM412 310h3v1h-3zM429 310h4v1h-4zM215 311h2v1h-2zM266 311h4v1h-4zM276 311h3v1h-3zM290 311h3v1h-3zM310 311h4v1h-4zM322 311h4v1h-4zM347 311h16v1h-16zM364 311h2v1h-2zM367 311h3v1h-3zM372 311h2v1h-2zM375 311h2v1h-2zM381 311h2v1h-2zM386 311h3v1h-3zM394 311h3v1h-3zM403 311h3v1h-3zM410 311h2v1h-2zM426 311h3v1h-3zM213 312h2v1h-2zM224 312h2v1h-2zM262 312h4v1h-4zM273 312h3v1h-3zM288 312h2v1h-2zM307 312h3v1h-3zM319 312h3v1h-3zM344 312h20v1h-20zM365 312h2v1h-2zM369 312h6v1h-6zM378 312h3v1h-3zM384 312h2v1h-2zM392 312h2v1h-2zM400 312h3v1h-3zM407 312h3v1h-3zM423 312h3v1h-3zM166 313h2v1h-2zM211 313h2v1h-2zM260 313h2v1h-2zM271 313h2v1h-2zM285 313h3v1h-3zM304 313h3v1h-3zM316 313h3v1h-3zM341 313h20v1h-20zM362 313h3v1h-3zM366 313h6v1h-6zM375 313h3v1h-3zM381 313h3v1h-3zM389 313h3v1h-3zM397 313h3v1h-3zM404 313h3v1h-3zM419 313h4v1h-4zM257 314h3v1h-3zM268 314h3v1h-3zM282 314h3v1h-3zM300 314h4v1h-4zM312 314h4v1h-4zM338 314h17v1h-17zM356 314h2v1h-2zM359 314h3v1h-3zM364 314h2v1h-2zM367 314h2v1h-2zM373 314h2v1h-2zM378 314h3v1h-3zM386 314h3v1h-3zM394 314h3v1h-3zM402 314h2v1h-2zM416 314h3v1h-3zM163 315h2v1h-2zM208 315h2v1h-2zM255 315h2v1h-2zM265 315h3v1h-3zM280 315h2v1h-2zM297 315h3v1h-3zM309 315h3v1h-3zM335 315h21v1h-21zM357 315h2v1h-2zM361 315h6v1h-6zM370 315h3v1h-3zM376 315h2v1h-2zM383 315h3v1h-3zM391 315h3v1h-3zM399 315h3v1h-3zM413 315h3v1h-3zM206 316h2v1h-2zM252 316h3v1h-3zM262 316h3v1h-3zM277 316h3v1h-3zM294 316h3v1h-3zM306 316h3v1h-3zM333 316h20v1h-20zM354 316h3v1h-3zM359 316h2v1h-2zM362 316h2v1h-2zM368 316h2v1h-2zM373 316h3v1h-3zM380 316h3v1h-3zM388 316h3v1h-3zM396 316h3v1h-3zM409 316h4v1h-4zM160 317h2v1h-2zM204 317h2v1h-2zM218 317h2v1h-2zM249 317h3v1h-3zM259 317h3v1h-3zM275 317h2v1h-2zM291 317h3v1h-3zM303 317h3v1h-3zM330 317h20v1h-20zM351 317h3v1h-3zM356 317h6v1h-6zM365 317h3v1h-3zM370 317h3v1h-3zM378 317h2v1h-2zM385 317h3v1h-3zM393 317h3v1h-3zM406 317h3v1h-3zM202 318h2v1h-2zM247 318h2v1h-2zM255 318h4v1h-4zM272 318h3v1h-3zM287 318h4v1h-4zM299 318h4v1h-4zM327 318h17v1h-17zM345 318h2v1h-2zM349 318h2v1h-2zM353 318h6v1h-6zM362 318h3v1h-3zM368 318h2v1h-2zM375 318h3v1h-3zM382 318h3v1h-3zM391 318h2v1h-2zM403 318h3v1h-3zM157 319h2v1h-2zM200 319h2v1h-2zM244 319h3v1h-3zM252 319h3v1h-3zM270 319h2v1h-2zM284 319h3v1h-3zM296 319h3v1h-3zM324 319h21v1h-21zM346 319h3v1h-3zM351 319h2v1h-2zM354 319h2v1h-2zM360 319h2v1h-2zM365 319h3v1h-3zM372 319h3v1h-3zM379 319h3v1h-3zM388 319h3v1h-3zM399 319h4v1h-4zM198 320h2v1h-2zM214 320h2v1h-2zM242 320h2v1h-2zM249 320h3v1h-3zM267 320h3v1h-3zM281 320h3v1h-3zM293 320h3v1h-3zM321 320h21v1h-21zM343 320h3v1h-3zM348 320h6v1h-6zM357 320h3v1h-3zM362 320h3v1h-3zM369 320h3v1h-3zM376 320h3v1h-3zM385 320h3v1h-3zM396 320h3v1h-3zM196 321h2v1h-2zM239 321h3v1h-3zM245 321h4v1h-4zM264 321h3v1h-3zM278 321h3v1h-3zM290 321h3v1h-3zM317 321h26v1h-26zM344 321h7v1h-7zM353 321h4v1h-4zM359 321h3v1h-3zM366 321h3v1h-3zM373 321h3v1h-3zM382 321h3v1h-3zM393 321h3v1h-3zM153 322h2v1h-2zM194 322h2v1h-2zM211 322h2v1h-2zM237 322h2v1h-2zM242 322h3v1h-3zM261 322h3v1h-3zM275 322h3v1h-3zM287 322h3v1h-3zM314 322h25v1h-25zM340 322h7v1h-7zM350 322h3v1h-3zM356 322h3v1h-3zM363 322h3v1h-3zM369 322h4v1h-4zM379 322h3v1h-3zM389 322h4v1h-4zM192 323h2v1h-2zM209 323h2v1h-2zM234 323h3v1h-3zM239 323h3v1h-3zM258 323h3v1h-3zM272 323h3v1h-3zM284 323h3v1h-3zM311 323h24v1h-24zM336 323h7v1h-7zM346 323h4v1h-4zM353 323h3v1h-3zM359 323h4v1h-4zM366 323h3v1h-3zM375 323h4v1h-4zM386 323h3v1h-3zM189 324h3v1h-3zM207 324h2v1h-2zM231 324h3v1h-3zM237 324h2v1h-2zM256 324h2v1h-2zM270 324h2v1h-2zM280 324h4v1h-4zM307 324h24v1h-24zM332 324h7v1h-7zM342 324h4v1h-4zM350 324h3v1h-3zM356 324h3v1h-3zM363 324h3v1h-3zM372 324h3v1h-3zM383 324h3v1h-3zM149 325h2v1h-2zM185 325h4v1h-4zM204 325h3v1h-3zM229 325h2v1h-2zM234 325h3v1h-3zM253 325h3v1h-3zM267 325h3v1h-3zM277 325h3v1h-3zM304 325h23v1h-23zM328 325h8v1h-8zM339 325h3v1h-3zM347 325h3v1h-3zM353 325h3v1h-3zM359 325h4v1h-4zM369 325h3v1h-3zM379 325h4v1h-4zM181 326h6v1h-6zM202 326h2v1h-2zM226 326h3v1h-3zM231 326h3v1h-3zM250 326h3v1h-3zM264 326h3v1h-3zM274 326h3v1h-3zM300 326h32v1h-32zM335 326h4v1h-4zM344 326h3v1h-3zM350 326h3v1h-3zM356 326h3v1h-3zM366 326h3v1h-3zM376 326h3v1h-3zM177 327h4v1h-4zM183 327h2v1h-2zM199 327h3v1h-3zM223 327h3v1h-3zM229 327h2v1h-2zM247 327h3v1h-3zM261 327h3v1h-3zM271 327h3v1h-3zM297 327h27v1h-27zM325 327h3v1h-3zM332 327h3v1h-3zM341 327h3v1h-3zM347 327h3v1h-3zM353 327h3v1h-3zM363 327h3v1h-3zM373 327h3v1h-3zM145 328h2v1h-2zM174 328h3v1h-3zM181 328h2v1h-2zM197 328h2v1h-2zM221 328h2v1h-2zM226 328h3v1h-3zM244 328h3v1h-3zM258 328h3v1h-3zM268 328h3v1h-3zM294 328h26v1h-26zM321 328h4v1h-4zM328 328h4v1h-4zM338 328h3v1h-3zM343 328h4v1h-4zM349 328h4v1h-4zM359 328h4v1h-4zM369 328h4v1h-4zM171 329h3v1h-3zM179 329h2v1h-2zM194 329h3v1h-3zM218 329h3v1h-3zM223 329h3v1h-3zM241 329h3v1h-3zM255 329h3v1h-3zM265 329h3v1h-3zM290 329h26v1h-26zM317 329h4v1h-4zM324 329h4v1h-4zM335 329h3v1h-3zM340 329h3v1h-3zM346 329h3v1h-3zM356 329h3v1h-3zM366 329h3v1h-3zM167 330h4v1h-4zM177 330h2v1h-2zM192 330h2v1h-2zM216 330h2v1h-2zM221 330h2v1h-2zM238 330h3v1h-3zM252 330h3v1h-3zM262 330h3v1h-3zM287 330h25v1h-25zM313 330h4v1h-4zM321 330h3v1h-3zM332 330h3v1h-3zM337 330h3v1h-3zM343 330h3v1h-3zM353 330h3v1h-3zM363 330h3v1h-3zM141 331h2v1h-2zM164 331h3v1h-3zM174 331h3v1h-3zM189 331h3v1h-3zM214 331h2v1h-2zM218 331h3v1h-3zM236 331h2v1h-2zM250 331h2v1h-2zM258 331h4v1h-4zM283 331h25v1h-25zM310 331h3v1h-3zM317 331h4v1h-4zM329 331h3v1h-3zM334 331h3v1h-3zM339 331h4v1h-4zM350 331h3v1h-3zM359 331h4v1h-4zM161 332h3v1h-3zM171 332h3v1h-3zM185 332h4v1h-4zM212 332h2v1h-2zM216 332h2v1h-2zM233 332h3v1h-3zM247 332h3v1h-3zM255 332h3v1h-3zM280 332h24v1h-24zM306 332h4v1h-4zM314 332h3v1h-3zM326 332h3v1h-3zM331 332h3v1h-3zM336 332h3v1h-3zM347 332h3v1h-3zM356 332h3v1h-3zM157 333h4v1h-4zM168 333h3v1h-3zM181 333h4v1h-4zM210 333h2v1h-2zM213 333h3v1h-3zM230 333h3v1h-3zM244 333h3v1h-3zM252 333h3v1h-3zM277 333h23v1h-23zM302 333h4v1h-4zM310 333h4v1h-4zM323 333h3v1h-3zM327 333h4v1h-4zM333 333h3v1h-3zM343 333h4v1h-4zM353 333h3v1h-3zM137 334h2v1h-2zM154 334h3v1h-3zM165 334h3v1h-3zM177 334h4v1h-4zM207 334h3v1h-3zM211 334h2v1h-2zM227 334h3v1h-3zM241 334h3v1h-3zM249 334h3v1h-3zM273 334h23v1h-23zM298 334h4v1h-4zM306 334h4v1h-4zM320 334h3v1h-3zM324 334h3v1h-3zM329 334h4v1h-4zM340 334h3v1h-3zM349 334h4v1h-4zM152 335h2v1h-2zM163 335h2v1h-2zM173 335h4v1h-4zM205 335h2v1h-2zM208 335h3v1h-3zM223 335h4v1h-4zM237 335h4v1h-4zM245 335h4v1h-4zM269 335h23v1h-23zM294 335h4v1h-4zM302 335h4v1h-4zM316 335h8v1h-8zM325 335h4v1h-4zM336 335h4v1h-4zM345 335h4v1h-4zM150 336h2v1h-2zM160 336h3v1h-3zM169 336h4v1h-4zM203 336h2v1h-2zM206 336h2v1h-2zM219 336h4v1h-4zM233 336h4v1h-4zM241 336h4v1h-4zM265 336h23v1h-23zM289 336h5v1h-5zM297 336h5v1h-5zM310 336h15v1h-15zM330 336h6v1h-6zM339 336h6v1h-6zM148 337h2v1h-2zM157 337h3v1h-3zM165 337h4v1h-4zM201 337h5v1h-5zM214 337h5v1h-5zM229 337h4v1h-4zM237 337h4v1h-4zM260 337h23v1h-23zM285 337h4v1h-4zM292 337h5v1h-5zM305 337h15v1h-15zM324 337h6v1h-6zM333 337h6v1h-6zM146 338h2v1h-2zM154 338h3v1h-3zM161 338h4v1h-4zM196 338h7v1h-7zM210 338h4v1h-4zM225 338h4v1h-4zM233 338h4v1h-4zM256 338h22v1h-22zM280 338h5v1h-5zM287 338h5v1h-5zM300 338h14v1h-14zM319 338h5v1h-5zM327 338h6v1h-6zM144 339h2v1h-2zM151 339h3v1h-3zM159 339h2v1h-2zM188 339h8v1h-8zM198 339h3v1h-3zM205 339h5v1h-5zM220 339h5v1h-5zM229 339h4v1h-4zM251 339h21v1h-21zM275 339h5v1h-5zM283 339h4v1h-4zM294 339h15v1h-15zM313 339h6v1h-6zM321 339h6v1h-6zM142 340h2v1h-2zM149 340h2v1h-2zM157 340h2v1h-2zM180 340h8v1h-8zM194 340h4v1h-4zM201 340h4v1h-4zM216 340h4v1h-4zM225 340h4v1h-4zM247 340h20v1h-20zM270 340h5v1h-5zM278 340h5v1h-5zM289 340h15v1h-15zM307 340h6v1h-6zM315 340h6v1h-6zM140 341h2v1h-2zM147 341h2v1h-2zM154 341h3v1h-3zM174 341h6v1h-6zM191 341h3v1h-3zM196 341h5v1h-5zM212 341h4v1h-4zM221 341h4v1h-4zM242 341h20v1h-20zM266 341h4v1h-4zM273 341h5v1h-5zM283 341h15v1h-15zM302 341h5v1h-5zM309 341h6v1h-6zM138 342h2v1h-2zM144 342h3v1h-3zM152 342h2v1h-2zM171 342h3v1h-3zM187 342h4v1h-4zM192 342h4v1h-4zM208 342h4v1h-4zM217 342h4v1h-4zM238 342h19v1h-19zM261 342h5v1h-5zM268 342h5v1h-5zM278 342h15v1h-15zM296 342h6v1h-6zM303 342h6v1h-6zM136 343h2v1h-2zM142 343h2v1h-2zM149 343h3v1h-3zM168 343h3v1h-3zM184 343h3v1h-3zM188 343h4v1h-4zM203 343h5v1h-5zM212 343h5v1h-5zM233 343h19v1h-19zM256 343h5v1h-5zM263 343h5v1h-5zM273 343h15v1h-15zM290 343h6v1h-6zM297 343h6v1h-6zM134 344h2v1h-2zM140 344h2v1h-2zM147 344h2v1h-2zM165 344h3v1h-3zM180 344h8v1h-8zM199 344h4v1h-4zM208 344h4v1h-4zM228 344h18v1h-18zM252 344h4v1h-4zM258 344h5v1h-5zM267 344h15v1h-15zM285 344h5v1h-5zM291 344h6v1h-6zM129 345h2v1h-2zM132 345h2v1h-2zM138 345h2v1h-2zM145 345h2v1h-2zM162 345h3v1h-3zM176 345h7v1h-7zM195 345h4v1h-4zM204 345h4v1h-4zM224 345h17v1h-17zM247 345h5v1h-5zM253 345h5v1h-5zM262 345h15v1h-15zM279 345h12v1h-12zM129 346h3v1h-3zM142 346h3v1h-3zM158 346h4v1h-4zM172 346h7v1h-7zM190 346h5v1h-5zM200 346h4v1h-4zM219 346h17v1h-17zM242 346h5v1h-5zM249 346h4v1h-4zM256 346h16v1h-16zM273 346h12v1h-12zM128 347h2v1h-2zM140 347h2v1h-2zM155 347h3v1h-3zM167 347h7v1h-7zM186 347h4v1h-4zM196 347h4v1h-4zM215 347h16v1h-16zM237 347h5v1h-5zM244 347h5v1h-5zM251 347h15v1h-15zM268 347h11v1h-11zM126 348h3v1h-3zM138 348h2v1h-2zM152 348h3v1h-3zM163 348h7v1h-7zM182 348h4v1h-4zM192 348h4v1h-4zM210 348h16v1h-16zM233 348h4v1h-4zM239 348h5v1h-5zM246 348h15v1h-15zM262 348h11v1h-11zM124 349h2v1h-2zM136 349h2v1h-2zM149 349h3v1h-3zM158 349h7v1h-7zM178 349h4v1h-4zM188 349h4v1h-4zM206 349h14v1h-14zM228 349h5v1h-5zM234 349h5v1h-5zM240 349h27v1h-27zM122 350h2v1h-2zM132 350h2v1h-2zM146 350h3v1h-3zM153 350h8v1h-8zM174 350h4v1h-4zM184 350h4v1h-4zM201 350h14v1h-14zM223 350h5v1h-5zM229 350h5v1h-5zM235 350h15v1h-15zM251 350h10v1h-10zM144 351h2v1h-2zM149 351h4v1h-4zM155 351h2v1h-2zM171 351h3v1h-3zM180 351h4v1h-4zM195 351h15v1h-15zM217 351h39v1h-39zM123 352h2v1h-2zM132 352h2v1h-2zM142 352h2v1h-2zM146 352h3v1h-3zM153 352h2v1h-2zM167 352h4v1h-4zM176 352h4v1h-4zM190 352h15v1h-15zM211 352h6v1h-6zM218 352h5v1h-5zM224 352h15v1h-15zM240 352h11v1h-11zM122 353h2v1h-2zM140 353h2v1h-2zM144 353h2v1h-2zM150 353h3v1h-3zM164 353h3v1h-3zM172 353h4v1h-4zM184 353h16v1h-16zM206 353h5v1h-5zM212 353h22v1h-22zM235 353h10v1h-10zM121 354h2v1h-2zM138 354h2v1h-2zM142 354h2v1h-2zM148 354h2v1h-2zM161 354h3v1h-3zM168 354h4v1h-4zM179 354h16v1h-16zM200 354h12v1h-12zM213 354h27v1h-27zM120 355h2v1h-2zM127 355h3v1h-3zM136 355h2v1h-2zM140 355h2v1h-2zM145 355h3v1h-3zM157 355h4v1h-4zM165 355h3v1h-3zM173 355h17v1h-17zM194 355h6v1h-6zM201 355h5v1h-5zM207 355h16v1h-16zM224 355h11v1h-11zM119 356h2v1h-2zM126 356h2v1h-2zM134 356h2v1h-2zM138 356h2v1h-2zM143 356h2v1h-2zM154 356h3v1h-3zM161 356h4v1h-4zM168 356h17v1h-17zM189 356h5v1h-5zM195 356h6v1h-6zM202 356h27v1h-27zM125 357h2v1h-2zM132 357h2v1h-2zM136 357h2v1h-2zM141 357h2v1h-2zM151 357h3v1h-3zM157 357h4v1h-4zM162 357h18v1h-18zM183 357h6v1h-6zM190 357h5v1h-5zM196 357h16v1h-16zM213 357h5v1h-5zM219 357h5v1h-5zM124 358h2v1h-2zM134 358h2v1h-2zM138 358h3v1h-3zM147 358h4v1h-4zM153 358h22v1h-22zM177 358h6v1h-6zM184 358h23v1h-23zM208 358h11v1h-11zM129 359h2v1h-2zM132 359h2v1h-2zM136 359h2v1h-2zM144 359h3v1h-3zM149 359h20v1h-20zM172 359h5v1h-5zM178 359h6v1h-6zM185 359h5v1h-5zM191 359h22v1h-22zM121 360h2v1h-2zM127 360h2v1h-2zM130 360h2v1h-2zM133 360h3v1h-3zM141 360h3v1h-3zM145 360h19v1h-19zM166 360h6v1h-6zM173 360h5v1h-5zM179 360h17v1h-17zM197 360h5v1h-5zM203 360h5v1h-5zM112 361h3v1h-3zM120 361h2v1h-2zM125 361h2v1h-2zM128 361h2v1h-2zM131 361h2v1h-2zM137 361h22v1h-22zM160 361h6v1h-6zM167 361h6v1h-6zM174 361h5v1h-5zM180 361h23v1h-23zM123 362h2v1h-2zM126 362h2v1h-2zM129 362h2v1h-2zM134 362h20v1h-20zM155 362h5v1h-5zM162 362h5v1h-5zM168 362h17v1h-17zM186 362h5v1h-5zM192 362h5v1h-5zM121 363h2v1h-2zM124 363h31v1h-31zM156 363h6v1h-6zM163 363h5v1h-5zM169 363h5v1h-5zM175 363h5v1h-5zM181 363h5v1h-5zM187 363h5v1h-5zM116 364h2v1h-2zM119 364h2v1h-2zM122 364h27v1h-27zM150 364h6v1h-6zM157 364h30v1h-30zM115 365h2v1h-2zM120 365h19v1h-19zM140 365h3v1h-3zM147 365h3v1h-3zM154 365h3v1h-3zM160 365h3v1h-3zM166 365h3v1h-3zM172 365h3v1h-3zM178 365h3v1h-3zM109 365h1v1h-1zM110 364h1v1h-1zM111 363h1v1h-1zM112 362h1v1h-1zM112 365h1v1h-1zM113 360h1v1h-1zM113 364h1v1h-1zM114 359h1v1h-1zM114 363h1v1h-1zM115 358h1v1h-1zM115 360h1v1h-1zM115 362h1v1h-1zM116 357h1v1h-1zM116 359h1v1h-1zM116 361h1v1h-1zM117 356h1v1h-1zM117 358h1v1h-1zM117 360h1v1h-1zM118 355h1v1h-1zM118 357h1v1h-1zM118 359h1v1h-1zM118 363h1v1h-1zM118 365h1v1h-1zM119 353h1v2h-1zM119 358h1v1h-1zM119 362h1v1h-1zM120 352h1v1h-1zM120 357h1v1h-1zM121 351h1v1h-1zM123 359h1v1h-1zM125 351h1v1h-1zM126 350h1v1h-1zM127 349h1v1h-1zM128 354h1v1h-1zM129 335h1v10h-1zM129 353h1v1h-1zM130 333h1v2h-1zM130 352h1v1h-1zM130 354h1v1h-1zM131 331h1v2h-1zM131 343h1v2h-1zM131 351h1v1h-1zM131 353h1v1h-1zM131 358h1v1h-1zM132 329h1v2h-1zM132 341h1v2h-1zM133 327h1v2h-1zM133 340h1v1h-1zM134 325h1v2h-1zM134 338h1v2h-1zM134 349h1v1h-1zM134 351h1v1h-1zM135 323h1v2h-1zM135 336h1v2h-1zM135 348h1v1h-1zM135 350h1v1h-1zM136 321h1v2h-1zM136 335h1v1h-1zM136 347h1v1h-1zM137 318h1v3h-1zM137 346h1v1h-1zM138 313h1v5h-1zM139 308h1v5h-1zM139 333h1v1h-1zM140 304h1v4h-1zM140 332h1v1h-1zM141 302h1v2h-1zM142 300h1v2h-1zM143 298h1v2h-1zM143 330h1v1h-1zM144 296h1v2h-1zM144 329h1v1h-1zM145 294h1v2h-1zM146 292h1v2h-1zM147 289h1v3h-1zM147 327h1v1h-1zM148 287h1v2h-1zM148 326h1v1h-1zM149 285h1v2h-1zM150 283h1v2h-1zM151 281h1v2h-1zM151 324h1v1h-1zM152 279h1v2h-1zM152 323h1v1h-1zM153 277h1v2h-1zM154 275h1v2h-1zM155 274h1v1h-1zM155 321h1v1h-1zM156 273h1v1h-1zM156 320h1v1h-1zM157 271h1v2h-1zM158 270h1v1h-1zM159 269h1v1h-1zM159 318h1v1h-1zM160 268h1v1h-1zM161 267h1v1h-1zM162 266h1v1h-1zM162 316h1v1h-1zM163 265h1v1h-1zM164 263h1v2h-1zM165 262h1v1h-1zM165 314h1v1h-1zM166 261h1v1h-1zM167 260h1v1h-1zM168 258h1v2h-1zM168 312h1v1h-1zM169 256h1v2h-1zM169 311h1v1h-1zM170 255h1v1h-1zM171 253h1v2h-1zM172 251h1v2h-1zM172 309h1v1h-1zM173 250h1v1h-1zM174 248h1v2h-1zM175 246h1v2h-1zM175 307h1v1h-1zM176 245h1v1h-1zM177 243h1v2h-1zM178 241h1v2h-1zM178 305h1v1h-1zM179 239h1v2h-1zM180 237h1v2h-1zM181 235h1v2h-1zM181 303h1v1h-1zM182 233h1v2h-1zM182 302h1v1h-1zM183 231h1v2h-1zM184 230h1v1h-1zM185 229h1v1h-1zM185 300h1v1h-1zM186 228h1v1h-1zM186 299h1v1h-1zM187 227h1v1h-1zM188 226h1v1h-1zM189 225h1v1h-1zM189 297h1v1h-1zM190 224h1v1h-1zM190 296h1v1h-1zM191 222h1v2h-1zM192 221h1v1h-1zM193 220h1v1h-1zM193 294h1v1h-1zM194 219h1v1h-1zM194 293h1v1h-1zM195 218h1v1h-1zM196 217h1v1h-1zM197 216h1v1h-1zM197 291h1v1h-1zM198 215h1v1h-1zM198 290h1v1h-1zM199 213h1v2h-1zM200 212h1v1h-1zM201 211h1v1h-1zM201 288h1v1h-1zM202 209h1v2h-1zM203 208h1v1h-1zM204 207h1v1h-1zM205 205h1v2h-1zM206 204h1v1h-1zM206 285h1v1h-1zM207 203h1v1h-1zM208 201h1v2h-1zM209 200h1v1h-1zM209 283h1v1h-1zM210 199h1v1h-1zM210 314h1v1h-1zM211 197h1v2h-1zM212 196h1v1h-1zM212 281h1v1h-1zM213 195h1v1h-1zM213 321h1v1h-1zM214 194h1v1h-1zM215 192h1v2h-1zM216 191h1v1h-1zM216 319h1v1h-1zM217 190h1v1h-1zM217 278h1v1h-1zM217 318h1v1h-1zM218 189h1v1h-1zM219 187h1v2h-1zM219 309h1v1h-1zM220 186h1v1h-1zM220 316h1v1h-1zM221 185h1v1h-1zM221 315h1v1h-1zM222 184h1v1h-1zM222 314h1v1h-1zM223 183h1v1h-1zM223 313h1v1h-1zM224 182h1v1h-1zM225 181h1v1h-1zM226 180h1v1h-1zM226 311h1v1h-1zM227 179h1v1h-1zM227 304h1v1h-1zM227 310h1v1h-1zM228 177h1v2h-1zM228 309h1v1h-1zM229 176h1v1h-1zM230 175h1v1h-1zM230 302h1v1h-1zM231 174h1v1h-1zM231 301h1v1h-1zM231 307h1v1h-1zM232 173h1v1h-1zM232 300h1v1h-1zM233 172h1v1h-1zM233 299h1v1h-1zM234 171h1v1h-1zM234 305h1v1h-1zM235 170h1v1h-1zM236 169h1v1h-1zM236 297h1v1h-1zM237 168h1v1h-1zM237 296h1v1h-1zM238 167h1v1h-1zM238 295h1v1h-1zM239 166h1v1h-1zM239 294h1v1h-1zM240 165h1v1h-1zM241 164h1v1h-1zM242 162h1v2h-1zM242 292h1v1h-1zM243 161h1v1h-1zM243 291h1v1h-1zM244 160h1v1h-1zM244 290h1v1h-1zM245 159h1v1h-1zM246 158h1v1h-1zM247 157h1v1h-1zM247 288h1v1h-1zM248 156h1v1h-1zM249 155h1v1h-1zM250 153h1v2h-1zM250 286h1v1h-1zM251 151h1v2h-1zM252 150h1v1h-1zM253 148h1v2h-1zM253 284h1v1h-1zM254 146h1v2h-1zM255 145h1v1h-1zM256 143h1v2h-1zM256 282h1v1h-1zM257 141h1v2h-1zM257 281h1v1h-1zM258 140h1v1h-1zM259 139h1v1h-1zM260 138h1v1h-1zM260 279h1v1h-1zM261 137h1v1h-1zM262 136h1v1h-1zM262 291h1v1h-1zM263 135h1v1h-1zM263 277h1v1h-1zM264 134h1v1h-1zM265 132h1v2h-1zM265 289h1v1h-1zM266 131h1v1h-1zM266 274h1v2h-1zM266 288h1v1h-1zM267 130h1v1h-1zM267 272h1v2h-1zM268 129h1v1h-1zM268 270h1v2h-1zM269 128h1v1h-1zM269 268h1v2h-1zM269 286h1v1h-1zM270 127h1v1h-1zM270 266h1v2h-1zM270 285h1v1h-1zM271 126h1v1h-1zM271 264h1v2h-1zM272 125h1v1h-1zM272 262h1v2h-1zM273 123h1v2h-1zM273 260h1v2h-1zM273 283h1v1h-1zM274 122h1v1h-1zM274 259h1v1h-1zM274 282h1v1h-1zM275 120h1v2h-1zM275 258h1v1h-1zM276 119h1v1h-1zM276 257h1v1h-1zM277 117h1v2h-1zM277 256h1v1h-1zM277 280h1v1h-1zM278 116h1v1h-1zM278 255h1v1h-1zM278 279h1v1h-1zM279 114h1v2h-1zM279 254h1v1h-1zM280 113h1v1h-1zM280 253h1v1h-1zM281 111h1v2h-1zM281 252h1v1h-1zM281 277h1v1h-1zM282 110h1v1h-1zM282 251h1v1h-1zM282 276h1v1h-1zM283 108h1v2h-1zM283 250h1v1h-1zM283 275h1v1h-1zM284 106h1v2h-1zM284 249h1v1h-1zM284 274h1v1h-1zM285 104h1v2h-1zM285 248h1v1h-1zM285 273h1v1h-1zM286 102h1v2h-1zM286 272h1v1h-1zM287 100h1v2h-1zM287 271h1v1h-1zM288 98h1v2h-1zM288 243h1v2h-1zM288 270h1v1h-1zM289 96h1v2h-1zM289 238h1v5h-1zM289 269h1v1h-1zM290 95h1v1h-1zM290 233h1v5h-1zM290 268h1v1h-1zM291 94h1v1h-1zM291 231h1v2h-1zM291 267h1v1h-1zM292 93h1v1h-1zM292 266h1v1h-1zM293 92h1v1h-1zM293 265h1v1h-1zM294 264h1v1h-1zM295 263h1v1h-1zM296 90h1v1h-1zM296 262h1v1h-1zM297 89h1v1h-1zM297 261h1v1h-1zM298 88h1v1h-1zM298 260h1v1h-1zM299 87h1v1h-1zM299 259h1v1h-1zM300 86h1v1h-1zM300 258h1v1h-1zM301 85h1v1h-1zM303 256h1v1h-1zM304 83h1v1h-1zM304 255h1v1h-1zM305 82h1v1h-1zM306 81h1v1h-1zM307 80h1v1h-1zM307 253h1v1h-1zM310 251h1v1h-1zM311 250h1v1h-1zM314 248h1v1h-1zM315 247h1v1h-1zM318 245h1v1h-1zM319 243h1v2h-1zM320 242h1v1h-1zM321 240h1v2h-1zM322 239h1v1h-1zM323 237h1v2h-1zM324 236h1v1h-1zM325 235h1v1h-1zM326 233h1v2h-1zM327 232h1v1h-1zM328 230h1v2h-1zM329 229h1v1h-1zM330 228h1v1h-1zM335 224h1v1h-1zM336 223h1v1h-1zM339 221h1v1h-1zM340 220h1v1h-1zM341 219h1v1h-1zM342 218h1v1h-1zM343 217h1v1h-1zM344 216h1v1h-1zM347 214h1v1h-1zM348 213h1v1h-1zM349 212h1v1h-1zM350 211h1v1h-1zM351 210h1v1h-1zM351 277h1v1h-1zM352 209h1v1h-1zM353 208h1v1h-1zM354 207h1v1h-1zM355 206h1v1h-1zM358 204h1v1h-1zM359 203h1v1h-1zM360 202h1v1h-1zM360 214h1v2h-1zM361 213h1v1h-1zM362 211h1v2h-1zM363 210h1v1h-1zM364 208h1v2h-1zM365 207h1v1h-1zM366 206h1v1h-1zM366 269h1v1h-1zM367 204h1v2h-1zM368 203h1v1h-1zM369 201h1v2h-1zM369 267h1v1h-1zM374 264h1v1h-1zM377 262h1v1h-1zM380 195h1v1h-1zM380 260h1v1h-1zM381 190h1v1h-1zM381 259h1v1h-1zM383 193h1v1h-1zM384 257h1v1h-1zM385 256h1v1h-1zM387 188h1v1h-1zM388 190h1v1h-1zM388 254h1v1h-1zM389 253h1v1h-1zM390 185h1v1h-1zM391 188h1v1h-1zM392 251h1v1h-1zM393 250h1v1h-1zM394 249h1v1h-1zM395 248h1v1h-1zM396 183h1v1h-1zM396 185h1v1h-1zM396 247h1v1h-1zM397 246h1v1h-1zM398 245h1v1h-1zM399 183h1v1h-1zM401 179h1v1h-1zM402 181h1v1h-1zM402 241h1v1h-1zM403 179h1v1h-1zM403 239h1v2h-1zM404 238h1v1h-1zM405 237h1v1h-1zM406 236h1v1h-1zM407 178h1v1h-1zM407 235h1v1h-1zM408 233h1v2h-1zM409 232h1v1h-1zM410 231h1v1h-1zM411 230h1v1h-1zM414 228h1v1h-1zM417 226h1v1h-1zM418 170h1v1h-1zM418 225h1v1h-1zM420 170h1v1h-1zM421 223h1v1h-1zM422 166h1v1h-1zM423 165h1v1h-1zM424 164h1v1h-1zM424 166h1v1h-1zM424 221h1v1h-1zM425 167h1v1h-1zM427 162h1v1h-1zM427 164h1v1h-1zM427 219h1v1h-1zM427 302h1v1h-1zM428 161h1v1h-1zM428 165h1v1h-1zM429 160h1v1h-1zM430 159h1v1h-1zM430 162h1v1h-1zM430 217h1v1h-1zM431 158h1v1h-1zM431 161h1v1h-1zM432 157h1v1h-1zM432 299h1v1h-1zM433 156h1v1h-1zM433 162h1v1h-1zM433 215h1v1h-1zM434 155h1v1h-1zM434 159h1v1h-1zM434 214h1v1h-1zM435 154h1v1h-1zM436 153h1v1h-1zM436 160h1v1h-1zM437 152h1v1h-1zM437 157h1v1h-1zM437 212h1v1h-1zM437 296h1v1h-1zM438 151h1v1h-1zM439 150h1v1h-1zM440 149h1v1h-1zM440 155h1v1h-1zM440 210h1v1h-1zM441 147h1v2h-1zM441 154h1v1h-1zM441 157h1v1h-1zM442 146h1v1h-1zM442 293h1v1h-1zM443 145h1v1h-1zM444 144h1v1h-1zM444 152h1v1h-1zM444 155h1v1h-1zM445 143h1v1h-1zM445 151h1v1h-1zM446 142h1v1h-1zM446 150h1v1h-1zM447 141h1v1h-1zM447 149h1v1h-1zM447 153h1v1h-1zM447 206h1v1h-1zM448 140h1v1h-1zM448 152h1v1h-1zM449 224h1v1h-1zM450 147h1v1h-1zM451 146h1v1h-1zM451 150h1v1h-1zM451 257h1v1h-1zM452 145h1v1h-1zM452 203h1v1h-1zM453 144h1v1h-1zM454 148h1v1h-1zM454 255h1v1h-1zM454 270h1v1h-1zM455 136h1v1h-1zM455 147h1v1h-1zM455 271h1v1h-1zM456 142h1v1h-1zM456 220h1v1h-1zM457 141h1v1h-1zM457 271h1v1h-1zM458 140h1v1h-1zM458 145h1v1h-1zM459 139h1v1h-1zM459 199h1v1h-1zM459 252h1v1h-1zM459 271h1v1h-1zM460 258h1v1h-1zM461 143h1v1h-1zM461 257h1v1h-1zM462 132h1v1h-1zM462 137h1v1h-1zM462 142h1v1h-1zM462 250h1v1h-1zM462 267h1v1h-1zM463 136h1v1h-1zM463 245h1v1h-1zM463 259h1v1h-1zM463 265h1v1h-1zM463 270h1v1h-1zM464 135h1v1h-1zM464 255h1v1h-1zM464 258h1v1h-1zM464 267h1v1h-1zM465 134h1v1h-1zM465 140h1v1h-1zM465 257h1v1h-1zM465 270h1v1h-1zM466 195h1v1h-1zM466 243h1v1h-1zM466 256h1v1h-1zM466 267h1v1h-1zM467 129h1v1h-1zM467 242h1v1h-1zM467 247h1v1h-1zM467 253h1v1h-1zM467 255h1v1h-1zM467 264h1v1h-1zM467 271h1v1h-1zM468 132h1v1h-1zM468 138h1v1h-1zM468 252h1v1h-1zM468 254h1v1h-1zM469 131h1v1h-1zM469 137h1v1h-1zM469 258h1v1h-1zM469 264h1v1h-1zM469 288h1v1h-1zM470 130h1v1h-1zM470 240h1v1h-1zM470 257h1v1h-1zM470 287h1v1h-1zM471 129h1v1h-1zM471 192h1v1h-1zM471 239h1v1h-1zM471 250h1v1h-1zM471 252h1v1h-1zM471 255h1v1h-1zM471 258h1v1h-1zM471 264h1v1h-1zM472 135h1v1h-1zM472 238h1v1h-1zM472 251h1v1h-1zM472 254h1v1h-1zM472 257h1v1h-1zM472 260h1v1h-1zM472 265h1v1h-1zM473 134h1v1h-1zM473 250h1v1h-1zM473 252h1v2h-1zM473 255h1v1h-1zM473 259h1v1h-1zM473 285h1v1h-1zM474 125h1v1h-1zM474 127h1v1h-1zM474 251h1v1h-1zM474 254h1v1h-1zM474 260h1v1h-1zM474 265h1v1h-1zM474 267h1v1h-1zM474 284h1v1h-1zM475 126h1v1h-1zM475 236h1v1h-1zM475 250h1v1h-1zM475 253h1v1h-1zM475 255h1v1h-1zM476 125h1v1h-1zM476 132h1v1h-1zM476 235h1v1h-1zM476 254h1v1h-1zM476 260h1v1h-1zM476 290h1v1h-1zM477 123h1v1h-1zM477 131h1v1h-1zM477 234h1v1h-1zM477 253h1v1h-1zM477 255h1v1h-1zM477 282h1v1h-1zM477 289h1v1h-1zM478 122h1v1h-1zM478 188h1v1h-1zM478 254h1v1h-1zM478 260h1v1h-1zM478 281h1v1h-1zM478 287h1v2h-1zM479 187h1v1h-1zM479 249h1v1h-1zM479 252h1v2h-1zM479 264h1v1h-1zM479 271h1v1h-1zM479 273h1v1h-1zM479 286h1v1h-1zM480 129h1v1h-1zM480 186h1v1h-1zM480 232h1v1h-1zM480 251h1v1h-1zM480 256h1v1h-1zM480 272h1v1h-1zM480 285h1v1h-1zM481 120h1v1h-1zM481 122h1v1h-1zM481 128h1v1h-1zM481 231h1v1h-1zM481 246h1v1h-1zM481 250h1v1h-1zM481 258h1v1h-1zM481 260h1v1h-1zM481 279h1v1h-1zM481 284h1v1h-1zM482 119h1v1h-1zM482 249h1v1h-1zM482 278h1v1h-1zM482 282h1v2h-1zM483 184h1v1h-1zM483 248h1v1h-1zM483 260h1v1h-1zM483 270h1v1h-1zM483 281h1v1h-1zM484 120h1v1h-1zM484 126h1v1h-1zM484 183h1v1h-1zM484 229h1v1h-1zM484 247h1v1h-1zM484 252h1v1h-1zM484 256h1v1h-1zM484 280h1v1h-1zM485 117h1v1h-1zM485 123h1v3h-1zM485 182h1v1h-1zM485 228h1v1h-1zM485 246h1v1h-1zM485 251h1v1h-1zM485 276h1v1h-1zM485 279h1v1h-1zM486 120h1v3h-1zM486 181h1v1h-1zM486 226h1v2h-1zM486 250h1v1h-1zM486 252h1v1h-1zM486 260h1v1h-1zM486 277h1v2h-1zM487 113h1v2h-1zM487 117h1v1h-1zM487 180h1v1h-1zM487 225h1v1h-1zM487 249h1v1h-1zM487 251h1v1h-1zM487 273h1v1h-1zM487 276h1v1h-1zM488 109h1v4h-1zM488 224h1v1h-1zM488 248h1v1h-1zM488 272h1v1h-1zM488 275h1v1h-1zM489 105h1v4h-1zM489 114h1v1h-1zM489 117h1v1h-1zM489 222h1v2h-1zM489 247h1v1h-1zM489 258h1v1h-1zM489 271h1v1h-1zM489 273h1v1h-1zM490 101h1v4h-1zM490 113h1v1h-1zM490 178h1v1h-1zM490 221h1v1h-1zM490 246h1v1h-1zM490 249h1v1h-1zM490 257h1v1h-1zM490 270h1v1h-1zM491 97h1v4h-1zM491 177h1v1h-1zM491 219h1v2h-1zM491 245h1v1h-1zM491 258h1v1h-1zM491 264h1v1h-1zM491 269h1v1h-1zM492 95h1v2h-1zM492 115h1v1h-1zM492 176h1v1h-1zM492 218h1v1h-1zM492 257h1v1h-1zM492 268h1v1h-1zM492 271h1v1h-1zM493 94h1v1h-1zM493 111h1v1h-1zM493 175h1v1h-1zM493 216h1v2h-1zM493 249h1v1h-1zM493 267h1v1h-1zM494 93h1v1h-1zM494 110h1v1h-1zM494 174h1v1h-1zM494 215h1v1h-1zM494 254h1v1h-1zM494 266h1v1h-1zM495 92h1v1h-1zM495 109h1v1h-1zM495 173h1v1h-1zM495 214h1v1h-1zM495 265h1v1h-1zM495 269h1v1h-1zM496 91h1v1h-1zM496 212h1v2h-1zM496 242h1v1h-1zM496 264h1v1h-1zM497 90h1v1h-1zM497 112h1v1h-1zM497 211h1v1h-1zM497 250h1v1h-1zM497 258h1v1h-1zM497 263h1v1h-1zM497 270h1v1h-1zM498 89h1v1h-1zM498 107h1v1h-1zM498 171h1v1h-1zM498 209h1v2h-1zM498 249h1v1h-1zM498 260h1v1h-1zM498 262h1v1h-1zM498 267h1v1h-1zM499 87h1v2h-1zM499 106h1v1h-1zM499 170h1v1h-1zM499 208h1v1h-1zM499 248h1v1h-1zM499 261h1v1h-1zM499 266h1v1h-1zM500 86h1v1h-1zM500 105h1v1h-1zM500 110h1v1h-1zM500 169h1v1h-1zM500 207h1v1h-1zM500 242h1v1h-1zM500 260h1v1h-1zM501 85h1v1h-1zM501 104h1v1h-1zM501 109h1v1h-1zM501 198h1v1h-1zM501 205h1v2h-1zM501 239h1v1h-1zM501 245h1v1h-1zM501 249h1v1h-1zM501 254h1v1h-1zM502 84h1v1h-1zM502 197h1v1h-1zM502 204h1v1h-1zM502 248h1v1h-1zM502 264h1v1h-1zM503 83h1v1h-1zM503 203h1v1h-1zM503 240h1v1h-1zM504 82h1v1h-1zM504 102h1v1h-1zM504 107h1v1h-1zM504 202h1v1h-1zM504 239h1v1h-1zM504 252h1v1h-1zM505 81h1v1h-1zM505 101h1v1h-1zM505 106h1v1h-1zM505 195h1v1h-1zM505 201h1v1h-1zM505 246h1v1h-1zM505 251h1v1h-1zM505 257h1v1h-1zM505 262h1v1h-1zM506 80h1v1h-1zM506 100h1v1h-1zM506 105h1v1h-1zM506 194h1v1h-1zM506 200h1v1h-1zM506 245h1v1h-1zM506 250h1v1h-1zM506 265h1v1h-1zM507 99h1v1h-1zM507 199h1v1h-1zM507 237h1v1h-1zM507 239h1v1h-1zM507 241h1v1h-1zM507 249h1v1h-1zM508 198h1v1h-1zM508 229h1v1h-1zM508 236h1v1h-1zM508 238h1v1h-1zM508 248h1v1h-1zM508 260h1v1h-1zM509 103h1v1h-1zM509 192h1v1h-1zM509 197h1v1h-1zM509 228h1v1h-1zM509 237h1v1h-1zM509 247h1v1h-1zM509 259h1v1h-1zM510 97h1v1h-1zM510 102h1v1h-1zM510 191h1v1h-1zM510 196h1v1h-1zM510 227h1v1h-1zM510 236h1v1h-1zM510 246h1v1h-1zM510 254h1v1h-1zM510 258h1v1h-1zM511 96h1v1h-1zM511 195h1v1h-1zM511 226h1v1h-1zM511 245h1v1h-1zM511 257h1v1h-1zM512 94h1v2h-1zM512 194h1v1h-1zM512 225h1v1h-1zM513 92h1v2h-1zM513 100h1v1h-1zM513 189h1v1h-1zM513 193h1v1h-1zM513 224h1v1h-1zM513 249h1v1h-1zM514 90h1v2h-1zM514 99h1v1h-1zM514 188h1v1h-1zM514 192h1v1h-1zM514 223h1v1h-1zM514 243h1v1h-1zM514 248h1v1h-1zM514 255h1v1h-1zM515 88h1v2h-1zM515 98h1v1h-1zM515 191h1v1h-1zM515 222h1v1h-1zM515 225h1v1h-1zM515 240h1v1h-1zM515 254h1v1h-1zM515 260h1v1h-1zM516 86h1v2h-1zM516 190h1v1h-1zM516 221h1v1h-1zM516 224h1v1h-1zM516 230h1v1h-1zM516 253h1v1h-1zM517 84h1v2h-1zM517 160h1v1h-1zM517 186h1v1h-1zM517 189h1v1h-1zM517 220h1v1h-1zM517 225h1v1h-1zM517 241h1v1h-1zM517 246h1v1h-1zM517 252h1v1h-1zM518 82h1v2h-1zM518 96h1v1h-1zM518 185h1v1h-1zM518 188h1v1h-1zM518 219h1v1h-1zM518 224h1v1h-1zM518 234h1v1h-1zM518 245h1v1h-1zM518 251h1v1h-1zM518 258h1v1h-1zM519 80h1v2h-1zM519 95h1v1h-1zM519 187h1v1h-1zM519 218h1v1h-1zM519 222h1v1h-1zM519 243h1v2h-1zM519 250h1v1h-1zM520 94h1v1h-1zM520 186h1v1h-1zM520 217h1v1h-1zM520 221h1v1h-1zM520 239h1v1h-1zM520 242h1v1h-1zM521 183h1v1h-1zM521 185h1v1h-1zM521 216h1v1h-1zM521 220h1v1h-1zM521 222h1v1h-1zM521 229h1v1h-1zM521 232h1v1h-1zM521 241h1v1h-1zM521 256h1v1h-1zM522 182h1v1h-1zM522 184h1v1h-1zM522 215h1v1h-1zM522 219h1v1h-1zM522 221h1v1h-1zM522 225h1v1h-1zM522 228h1v1h-1zM522 239h1v2h-1zM522 248h1v1h-1zM523 92h1v1h-1zM523 183h1v1h-1zM523 218h1v1h-1zM523 224h1v1h-1zM523 227h1v1h-1zM524 91h1v1h-1zM524 182h1v1h-1zM524 217h1v1h-1zM524 230h1v1h-1zM524 254h1v1h-1zM525 90h1v1h-1zM525 216h1v1h-1zM525 219h1v1h-1zM525 229h1v1h-1zM526 89h1v1h-1zM526 215h1v1h-1zM526 218h1v1h-1zM526 224h1v1h-1zM526 228h1v1h-1zM527 214h1v1h-1zM527 227h1v1h-1zM527 252h1v1h-1zM528 241h1v1h-1zM528 251h1v1h-1zM529 87h1v1h-1zM529 209h1v1h-1zM529 216h1v1h-1zM529 240h1v1h-1zM530 86h1v1h-1zM530 212h1v1h-1zM530 215h1v1h-1zM530 239h1v1h-1zM531 85h1v1h-1zM531 209h1v1h-1zM531 211h1v1h-1zM531 214h1v1h-1zM531 227h1v1h-1zM531 238h1v1h-1zM531 249h1v1h-1zM532 84h1v1h-1zM532 152h1v1h-1zM532 173h1v1h-1zM532 207h1v1h-1zM532 210h1v1h-1zM532 217h1v1h-1zM532 226h1v1h-1zM532 237h1v1h-1zM532 240h1v1h-1zM533 151h1v1h-1zM533 172h1v1h-1zM533 206h1v1h-1zM533 216h1v1h-1zM533 222h1v1h-1zM533 225h1v1h-1zM533 230h1v1h-1zM533 236h1v1h-1zM534 150h1v1h-1zM534 171h1v1h-1zM534 205h1v1h-1zM534 212h1v1h-1zM534 215h1v1h-1zM534 221h1v1h-1zM534 224h1v1h-1zM534 229h1v1h-1zM534 235h1v1h-1zM534 247h1v1h-1zM535 82h1v1h-1zM535 170h1v1h-1zM535 204h1v1h-1zM535 208h1v1h-1zM535 211h1v1h-1zM535 214h1v1h-1zM535 220h1v1h-1zM535 222h1v2h-1zM535 228h1v1h-1zM535 233h1v2h-1zM535 238h1v1h-1zM536 81h1v1h-1zM536 169h1v1h-1zM536 210h1v1h-1zM536 221h1v1h-1zM536 232h1v1h-1zM536 237h1v1h-1zM537 80h1v1h-1zM537 148h1v1h-1zM537 168h1v1h-1zM537 216h1v1h-1zM537 220h1v1h-1zM537 231h1v1h-1zM537 245h1v1h-1zM538 147h1v1h-1zM538 167h1v1h-1zM538 202h1v1h-1zM538 210h1v1h-1zM538 215h1v1h-1zM538 230h1v1h-1zM538 244h1v1h-1zM539 146h1v1h-1zM539 166h1v1h-1zM539 201h1v1h-1zM539 214h1v1h-1zM539 222h1v1h-1zM539 229h1v1h-1zM539 235h1v1h-1zM540 145h1v1h-1zM540 165h1v1h-1zM540 198h1v3h-1zM540 207h1v1h-1zM540 210h1v1h-1zM540 213h1v1h-1zM540 221h1v1h-1zM540 227h1v1h-1zM541 164h1v1h-1zM541 193h1v5h-1zM541 206h1v1h-1zM541 209h1v1h-1zM541 211h1v2h-1zM541 215h1v1h-1zM541 220h1v1h-1zM541 226h1v1h-1zM541 242h1v1h-1zM542 188h1v5h-1zM542 208h1v1h-1zM542 210h1v1h-1zM542 219h1v1h-1zM542 222h1v1h-1zM542 224h1v2h-1zM542 227h1v1h-1zM542 233h1v1h-1zM542 241h1v1h-1zM543 143h1v1h-1zM543 160h1v1h-1zM543 185h1v3h-1zM543 207h1v1h-1zM543 209h1v1h-1zM543 217h1v2h-1zM543 223h1v1h-1zM543 226h1v1h-1zM543 232h1v1h-1zM543 240h1v1h-1zM544 142h1v1h-1zM544 159h1v1h-1zM544 183h1v2h-1zM544 206h1v1h-1zM544 208h1v1h-1zM544 211h1v1h-1zM544 216h1v1h-1zM544 222h1v1h-1zM544 225h1v1h-1zM544 239h1v1h-1zM545 141h1v1h-1zM545 157h1v2h-1zM545 160h1v1h-1zM545 182h1v1h-1zM545 199h1v2h-1zM545 205h1v1h-1zM545 215h1v1h-1zM546 139h1v2h-1zM546 156h1v1h-1zM546 159h1v1h-1zM546 181h1v1h-1zM546 197h1v2h-1zM546 202h1v1h-1zM546 213h1v2h-1zM546 229h1v2h-1zM547 138h1v1h-1zM547 154h1v2h-1zM547 157h1v2h-1zM547 179h1v2h-1zM547 195h1v1h-1zM547 201h1v1h-1zM547 212h1v1h-1zM547 223h1v1h-1zM547 227h1v2h-1zM547 237h1v1h-1zM548 137h1v1h-1zM548 153h1v1h-1zM548 156h1v1h-1zM548 178h1v1h-1zM548 190h1v1h-1zM548 199h1v2h-1zM548 207h1v1h-1zM548 216h1v1h-1zM548 222h1v1h-1zM548 225h1v2h-1zM548 236h1v1h-1zM549 135h1v2h-1zM549 151h1v2h-1zM549 155h1v1h-1zM549 177h1v1h-1zM549 187h1v2h-1zM549 195h1v4h-1zM549 206h1v1h-1zM549 209h1v1h-1zM549 215h1v1h-1zM549 223h1v2h-1zM549 235h1v1h-1zM550 134h1v1h-1zM550 150h1v1h-1zM550 154h1v1h-1zM550 175h1v2h-1zM550 185h1v2h-1zM550 193h1v2h-1zM550 201h1v1h-1zM550 205h1v1h-1zM550 211h1v1h-1zM550 217h1v1h-1zM550 222h1v1h-1zM550 234h1v1h-1zM551 133h1v1h-1zM551 149h1v1h-1zM551 153h1v1h-1zM551 174h1v1h-1zM551 180h1v1h-1zM551 183h1v1h-1zM551 187h1v2h-1zM551 200h1v1h-1zM551 203h1v2h-1zM551 209h1v2h-1zM551 220h1v1h-1zM552 131h1v2h-1zM552 147h1v2h-1zM552 152h1v1h-1zM552 176h1v3h-1zM552 185h1v2h-1zM552 198h1v1h-1zM552 205h1v1h-1zM552 211h1v1h-1zM552 217h1v1h-1zM553 130h1v1h-1zM553 146h1v1h-1zM553 151h1v1h-1zM553 172h1v1h-1zM553 174h1v2h-1zM553 183h1v1h-1zM553 193h1v1h-1zM553 204h1v1h-1zM553 210h1v1h-1zM553 215h1v1h-1zM554 129h1v1h-1zM554 145h1v1h-1zM554 150h1v1h-1zM554 169h1v2h-1zM554 200h1v1h-1zM554 209h1v1h-1zM554 214h1v1h-1zM555 127h1v2h-1zM555 144h1v1h-1zM555 148h1v2h-1zM555 167h1v2h-1zM555 189h1v1h-1zM555 202h1v1h-1zM555 207h1v2h-1zM555 229h1v2h-1zM556 125h1v2h-1zM556 142h1v2h-1zM556 147h1v1h-1zM556 164h1v3h-1zM556 174h1v1h-1zM556 185h1v2h-1zM556 200h1v1h-1zM556 204h1v1h-1zM556 206h1v1h-1zM556 219h1v4h-1zM556 226h1v1h-1zM557 121h1v4h-1zM557 141h1v1h-1zM557 145h1v2h-1zM557 162h1v2h-1zM557 172h1v1h-1zM557 198h1v2h-1zM557 203h1v1h-1zM557 205h1v1h-1zM557 209h1v1h-1zM557 215h1v1h-1zM557 217h1v2h-1zM558 117h1v4h-1zM558 140h1v1h-1zM558 144h1v1h-1zM558 169h1v2h-1zM558 179h1v2h-1zM558 187h1v1h-1zM558 193h1v1h-1zM558 196h1v2h-1zM558 204h1v1h-1zM558 213h1v1h-1zM558 220h1v3h-1zM559 113h1v4h-1zM559 139h1v1h-1zM559 143h1v1h-1zM559 172h1v1h-1zM559 177h1v2h-1zM559 185h1v1h-1zM559 190h1v2h-1zM559 194h1v2h-1zM559 207h1v1h-1zM559 209h1v1h-1zM559 217h1v3h-1zM560 111h1v2h-1zM560 148h1v2h-1zM560 154h1v3h-1zM560 169h1v2h-1zM560 176h1v1h-1zM560 182h1v1h-1zM560 188h1v2h-1zM560 192h1v2h-1zM560 205h1v1h-1zM560 211h1v1h-1zM560 215h1v2h-1zM561 110h1v1h-1zM561 139h1v2h-1zM561 143h1v3h-1zM561 159h1v2h-1zM561 172h1v1h-1zM561 179h1v1h-1zM561 186h1v2h-1zM561 190h1v2h-1zM561 199h1v2h-1zM561 207h1v1h-1zM561 209h1v2h-1zM561 213h1v2h-1zM562 109h1v1h-1zM562 129h1v4h-1zM562 135h1v1h-1zM562 148h1v2h-1zM562 155h1v2h-1zM562 169h1v2h-1zM562 177h1v1h-1zM562 184h1v2h-1zM562 193h1v2h-1zM562 197h1v1h-1zM562 203h1v1h-1zM562 206h1v1h-1zM562 208h1v1h-1zM562 211h1v2h-1zM563 108h1v1h-1zM563 125h1v4h-1zM563 142h1v4h-1zM563 153h1v2h-1zM563 159h1v2h-1zM563 167h1v2h-1zM563 180h1v1h-1zM563 201h1v2h-1zM563 209h1v2h-1zM564 107h1v1h-1zM564 120h1v2h-1zM564 123h1v1h-1zM564 131h1v2h-1zM564 139h1v3h-1zM564 151h1v2h-1zM564 157h1v2h-1zM564 164h1v3h-1zM564 173h1v1h-1zM564 177h1v1h-1zM564 185h1v1h-1zM564 193h1v2h-1zM564 199h1v2h-1zM564 208h1v1h-1zM565 106h1v1h-1zM565 116h1v4h-1zM565 129h1v2h-1zM565 135h1v4h-1zM565 150h1v1h-1zM565 154h1v3h-1zM565 162h1v1h-1zM565 169h1v3h-1zM565 178h1v1h-1zM565 184h1v1h-1zM566 104h1v2h-1zM566 112h1v4h-1zM566 121h1v1h-1zM566 131h1v4h-1zM566 148h1v1h-1zM566 152h1v2h-1zM566 167h1v1h-1zM566 173h1v1h-1zM566 177h1v1h-1zM566 189h1v2h-1zM566 194h1v3h-1zM567 103h1v1h-1zM567 109h1v3h-1zM567 119h1v2h-1zM567 129h1v2h-1zM567 187h1v2h-1zM567 192h1v2h-1zM567 201h1v1h-1zM568 102h1v1h-1zM568 107h1v2h-1zM568 118h1v1h-1zM568 124h1v1h-1zM568 140h1v3h-1zM568 155h1v2h-1zM568 163h1v1h-1zM568 169h1v2h-1zM568 172h1v1h-1zM568 177h1v2h-1zM568 183h1v4h-1zM568 199h1v2h-1zM569 101h1v1h-1zM569 105h1v2h-1zM569 117h1v1h-1zM569 122h1v1h-1zM569 138h1v2h-1zM569 192h1v3h-1zM570 100h1v1h-1zM570 103h1v2h-1zM570 115h1v2h-1zM570 119h1v2h-1zM570 136h1v2h-1zM570 157h1v2h-1zM570 164h1v3h-1zM570 185h1v2h-1zM571 101h1v2h-1zM571 117h1v2h-1zM571 138h1v3h-1zM571 148h1v1h-1zM571 155h1v2h-1zM571 162h1v2h-1zM571 171h1v1h-1zM571 183h1v1h-1zM571 193h1v2h-1zM572 100h1v1h-1zM572 115h1v2h-1zM572 133h1v2h-1zM572 136h1v2h-1zM572 144h1v3h-1zM572 149h1v1h-1zM572 153h1v2h-1zM572 159h1v3h-1zM572 169h1v2h-1zM572 179h1v2h-1zM572 191h1v2h-1zM573 93h1v1h-1zM573 128h1v2h-1zM573 131h1v2h-1zM573 142h1v2h-1zM573 147h1v2h-1zM573 152h1v1h-1zM573 157h1v2h-1zM573 167h1v2h-1zM573 177h1v2h-1zM573 189h1v2h-1zM574 89h1v1h-1zM574 99h1v8h-1zM574 110h1v1h-1zM574 114h1v8h-1zM574 124h1v4h-1zM574 140h1v2h-1zM574 146h1v1h-1zM574 151h1v1h-1zM574 155h1v2h-1zM574 161h1v1h-1zM574 164h1v1h-1zM574 176h1v1h-1zM574 179h1v2h-1zM574 187h1v2h-1zM575 93h1v1h-1zM575 133h1v3h-1zM575 144h1v2h-1zM575 149h1v2h-1zM575 178h1v1h-1zM575 184h1v3h-1zM576 106h1v1h-1zM576 120h1v2h-1zM576 130h1v3h-1zM576 143h1v1h-1zM576 152h1v1h-1zM576 155h1v2h-1zM576 169h1v2h-1zM576 177h1v1h-1zM576 182h1v2h-1zM577 118h1v2h-1zM577 124h1v2h-1zM577 134h1v2h-1zM577 144h1v1h-1zM577 149h1v2h-1zM577 175h1v2h-1zM577 179h1v3h-1zM578 86h1v2h-1zM578 97h1v3h-1zM578 122h1v2h-1zM578 139h1v2h-1zM578 143h1v1h-1zM578 155h1v2h-1zM578 169h1v2h-1zM578 177h1v2h-1zM579 90h1v7h-1zM579 130h1v1h-1zM579 135h1v2h-1zM579 150h1v1h-1zM579 159h1v2h-1zM579 165h1v2h-1zM579 175h1v2h-1zM580 86h1v4h-1zM580 98h1v2h-1zM580 122h1v4h-1zM580 148h1v2h-1zM580 155h1v2h-1zM580 172h1v1h-1zM581 80h1v2h-1zM581 109h1v3h-1zM581 116h1v2h-1zM581 142h1v1h-1zM581 154h1v1h-1zM581 163h1v8h-1zM582 92h1v4h-1zM582 122h1v4h-1zM582 131h1v2h-1zM582 139h1v2h-1zM582 151h1v1h-1zM582 155h1v8h-1zM583 84h1v8h-1zM583 116h1v6h-1zM583 143h1v2h-1zM583 150h1v1h-1zM583 154h1v1h-1zM584 80h1v4h-1zM584 95h1v3h-1zM584 108h1v4h-1zM584 141h1v2h-1zM584 149h1v1h-1zM585 90h1v1h-1zM585 93h1v1h-1zM585 123h1v1h-1zM585 125h1v3h-1zM585 133h1v2h-1zM585 139h1v2h-1zM585 146h1v1h-1zM586 86h1v2h-1zM586 98h1v1h-1zM586 102h1v1h-1zM586 118h1v5h-1zM586 145h1v1h-1zM586 149h1v1h-1zM587 90h1v1h-1zM587 94h1v3h-1zM587 113h1v5h-1zM587 123h1v1h-1zM587 133h1v2h-1zM587 143h1v2h-1zM587 146h1v1h-1zM587 148h1v1h-1zM588 80h1v2h-1zM588 87h1v1h-1zM588 107h1v6h-1zM588 141h1v2h-1zM588 149h1v1h-1zM589 89h1v2h-1zM589 99h1v8h-1zM589 118h1v1h-1zM589 120h1v1h-1zM589 124h1v3h-1zM589 131h1v2h-1zM589 138h1v3h-1zM589 148h1v1h-1zM590 92h1v7h-1zM590 109h1v9h-1zM591 88h1v4h-1zM591 105h1v4h-1zM591 118h1v1h-1zM591 120h1v1h-1zM591 128h1v5h-1zM591 145h1v1h-1zM592 80h1v1h-1zM592 101h1v4h-1zM592 122h1v6h-1zM592 141h1v1h-1zM592 144h1v1h-1zM593 97h1v4h-1zM593 114h1v1h-1zM593 118h1v4h-1zM593 139h1v2h-1zM593 143h1v1h-1zM594 88h1v9h-1zM594 109h1v3h-1zM594 129h1v4h-1zM594 136h1v1h-1zM594 142h1v1h-1zM595 80h1v8h-1zM595 106h1v2h-1zM595 114h1v1h-1zM595 124h1v5h-1zM595 141h1v1h-1zM596 98h1v2h-1zM596 112h1v1h-1zM596 121h1v3h-1zM596 137h1v4h-1zM597 88h1v9h-1zM597 111h1v1h-1zM597 118h1v3h-1zM597 129h1v1h-1zM597 133h1v4h-1zM598 80h1v8h-1zM598 103h1v8h-1zM598 122h1v5h-1zM599 114h1v1h-1zM599 118h1v4h-1zM600 92h1v1h-1zM600 103h1v9h-1zM601 84h1v4h-1zM602 80h1v3h-1z"/>
<g font-family="'Liberation Mono', monospace" font-weight="normal" font-size="15px" letter-spacing="0.6" fill="#000" stroke="#000" stroke-width="0.45" stroke-linejoin="round" shape-rendering="auto" text-rendering="geometricPrecision"><text x="357.8" y="30" text-anchor="middle">R0957s2-D1</text><text x="333.8" y="420" text-anchor="middle">Percent of Residues (CA)</text><text x="31" y="233" text-anchor="middle" transform="rotate(-90 31 233)">Distance Cutoff, A</text><text x="64.8" y="395" text-anchor="middle">0</text><text x="180.3" y="395" text-anchor="middle">20</text><text x="286.3" y="395" text-anchor="middle">40</text><text x="392.3" y="395" text-anchor="middle">60</text><text x="498.3" y="395" text-anchor="middle">80</text><text x="609.3" y="395" text-anchor="middle">100</text><text x="55" y="375.3" text-anchor="middle" transform="rotate(-90 55 375.3)">0</text><text x="54" y="219.7" text-anchor="middle" transform="rotate(-90 54 219.7)">5</text><text x="55" y="65.5" text-anchor="middle" transform="rotate(-90 55 65.5)">10</text></g>
</svg></body></html>
